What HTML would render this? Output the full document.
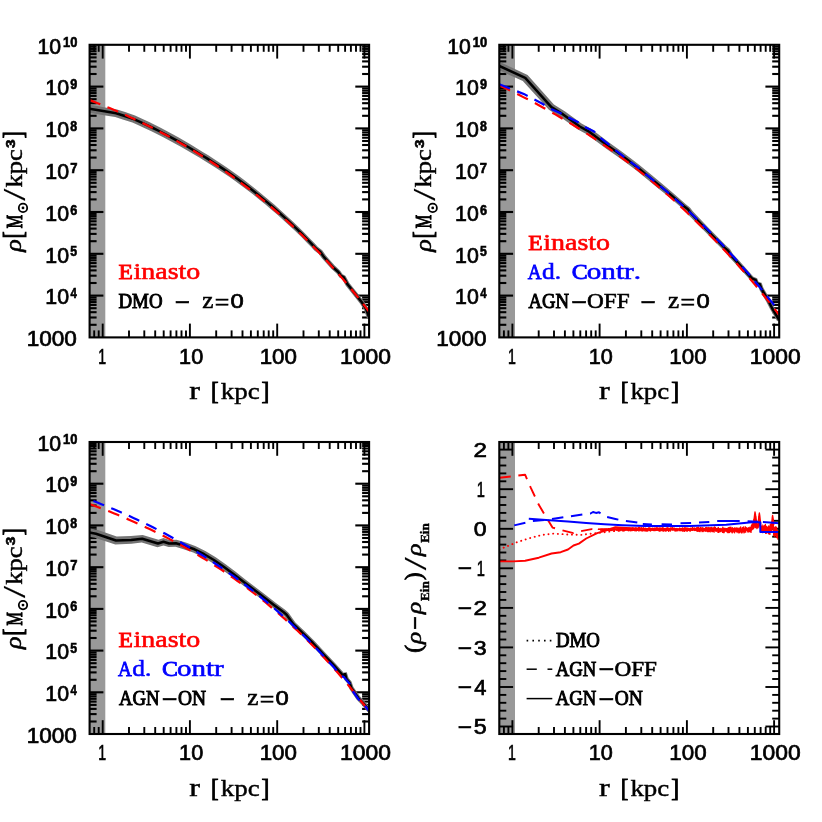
<!DOCTYPE html>
<html lang="en"><head><meta charset="utf-8"><title>Density profiles: Einasto fits and adiabatic contraction</title>
<style>html,body{margin:0;padding:0;background:#fff}svg{display:block;font-kerning:none;will-change:transform}text{stroke:#000;fill:#000}.sr{font-family:"Liberation Serif",serif;stroke-width:0.85px}.si{font-family:"Liberation Serif",serif;font-style:italic;stroke-width:0.85px}.sb{font-family:"Liberation Serif",serif;font-weight:bold;stroke-width:0.85px}.nr{font-family:"Liberation Sans",sans-serif;stroke-width:0.7px}.nb{font-family:"Liberation Sans",sans-serif;font-weight:bold;stroke-width:.6px}.ax{stroke:#000;stroke-width:1.9;fill:#000}.dat{fill:none;stroke-linejoin:round}</style></head><body>
<svg width="822" height="822" viewBox="0 0 822 822">
<rect width="822" height="822" fill="#fff"/>
<mask id="mk" maskUnits="userSpaceOnUse" x="0" y="0" width="822" height="822"><rect width="822" height="822" fill="#fff"/></mask><g mask="url(#mk)">
<g class="ax">
<rect x="89.6" y="44.8" width="15.7" height="292.6" fill="#999" stroke="none"/>
<line x1="94.2" y1="337.4" x2="94.2" y2="330.4"/>
<line x1="94.2" y1="44.8" x2="94.2" y2="51.8"/>
<line x1="98.7" y1="337.4" x2="98.7" y2="330.4"/>
<line x1="98.7" y1="44.8" x2="98.7" y2="51.8"/>
<line x1="102.7" y1="337.4" x2="102.7" y2="323.6"/>
<line x1="102.7" y1="44.8" x2="102.7" y2="58.6"/>
<line x1="129" y1="337.4" x2="129" y2="330.4"/>
<line x1="129" y1="44.8" x2="129" y2="51.8"/>
<line x1="144.3" y1="337.4" x2="144.3" y2="330.4"/>
<line x1="144.3" y1="44.8" x2="144.3" y2="51.8"/>
<line x1="155.2" y1="337.4" x2="155.2" y2="330.4"/>
<line x1="155.2" y1="44.8" x2="155.2" y2="51.8"/>
<line x1="163.7" y1="337.4" x2="163.7" y2="330.4"/>
<line x1="163.7" y1="44.8" x2="163.7" y2="51.8"/>
<line x1="170.6" y1="337.4" x2="170.6" y2="330.4"/>
<line x1="170.6" y1="44.8" x2="170.6" y2="51.8"/>
<line x1="176.4" y1="337.4" x2="176.4" y2="330.4"/>
<line x1="176.4" y1="44.8" x2="176.4" y2="51.8"/>
<line x1="181.5" y1="337.4" x2="181.5" y2="330.4"/>
<line x1="181.5" y1="44.8" x2="181.5" y2="51.8"/>
<line x1="186" y1="337.4" x2="186" y2="330.4"/>
<line x1="186" y1="44.8" x2="186" y2="51.8"/>
<line x1="189.9" y1="337.4" x2="189.9" y2="323.6"/>
<line x1="189.9" y1="44.8" x2="189.9" y2="58.6"/>
<line x1="216.2" y1="337.4" x2="216.2" y2="330.4"/>
<line x1="216.2" y1="44.8" x2="216.2" y2="51.8"/>
<line x1="231.6" y1="337.4" x2="231.6" y2="330.4"/>
<line x1="231.6" y1="44.8" x2="231.6" y2="51.8"/>
<line x1="242.5" y1="337.4" x2="242.5" y2="330.4"/>
<line x1="242.5" y1="44.8" x2="242.5" y2="51.8"/>
<line x1="250.9" y1="337.4" x2="250.9" y2="330.4"/>
<line x1="250.9" y1="44.8" x2="250.9" y2="51.8"/>
<line x1="257.8" y1="337.4" x2="257.8" y2="330.4"/>
<line x1="257.8" y1="44.8" x2="257.8" y2="51.8"/>
<line x1="263.7" y1="337.4" x2="263.7" y2="330.4"/>
<line x1="263.7" y1="44.8" x2="263.7" y2="51.8"/>
<line x1="268.7" y1="337.4" x2="268.7" y2="330.4"/>
<line x1="268.7" y1="44.8" x2="268.7" y2="51.8"/>
<line x1="273.2" y1="337.4" x2="273.2" y2="330.4"/>
<line x1="273.2" y1="44.8" x2="273.2" y2="51.8"/>
<line x1="277.2" y1="337.4" x2="277.2" y2="323.6"/>
<line x1="277.2" y1="44.8" x2="277.2" y2="58.6"/>
<line x1="303.5" y1="337.4" x2="303.5" y2="330.4"/>
<line x1="303.5" y1="44.8" x2="303.5" y2="51.8"/>
<line x1="318.8" y1="337.4" x2="318.8" y2="330.4"/>
<line x1="318.8" y1="44.8" x2="318.8" y2="51.8"/>
<line x1="329.7" y1="337.4" x2="329.7" y2="330.4"/>
<line x1="329.7" y1="44.8" x2="329.7" y2="51.8"/>
<line x1="338.2" y1="337.4" x2="338.2" y2="330.4"/>
<line x1="338.2" y1="44.8" x2="338.2" y2="51.8"/>
<line x1="345.1" y1="337.4" x2="345.1" y2="330.4"/>
<line x1="345.1" y1="44.8" x2="345.1" y2="51.8"/>
<line x1="350.9" y1="337.4" x2="350.9" y2="330.4"/>
<line x1="350.9" y1="44.8" x2="350.9" y2="51.8"/>
<line x1="356" y1="337.4" x2="356" y2="330.4"/>
<line x1="356" y1="44.8" x2="356" y2="51.8"/>
<line x1="360.5" y1="337.4" x2="360.5" y2="330.4"/>
<line x1="360.5" y1="44.8" x2="360.5" y2="51.8"/>
<line x1="364.4" y1="337.4" x2="364.4" y2="323.6"/>
<line x1="364.4" y1="44.8" x2="364.4" y2="58.6"/>
<g stroke-width="2.1">
<line x1="89.6" y1="324.8" x2="96.6" y2="324.8"/>
<line x1="369.1" y1="324.8" x2="362.1" y2="324.8"/>
<line x1="89.6" y1="317.5" x2="96.6" y2="317.5"/>
<line x1="369.1" y1="317.5" x2="362.1" y2="317.5"/>
<line x1="89.6" y1="312.2" x2="96.6" y2="312.2"/>
<line x1="369.1" y1="312.2" x2="362.1" y2="312.2"/>
<line x1="89.6" y1="308.2" x2="96.6" y2="308.2"/>
<line x1="369.1" y1="308.2" x2="362.1" y2="308.2"/>
<line x1="89.6" y1="304.9" x2="96.6" y2="304.9"/>
<line x1="369.1" y1="304.9" x2="362.1" y2="304.9"/>
<line x1="89.6" y1="302.1" x2="96.6" y2="302.1"/>
<line x1="369.1" y1="302.1" x2="362.1" y2="302.1"/>
<line x1="89.6" y1="299.7" x2="96.6" y2="299.7"/>
<line x1="369.1" y1="299.7" x2="362.1" y2="299.7"/>
<line x1="89.6" y1="297.5" x2="96.6" y2="297.5"/>
<line x1="369.1" y1="297.5" x2="362.1" y2="297.5"/>
<line x1="89.6" y1="295.6" x2="103.4" y2="295.6"/>
<line x1="369.1" y1="295.6" x2="355.3" y2="295.6"/>
<line x1="89.6" y1="283" x2="96.6" y2="283"/>
<line x1="369.1" y1="283" x2="362.1" y2="283"/>
<line x1="89.6" y1="275.7" x2="96.6" y2="275.7"/>
<line x1="369.1" y1="275.7" x2="362.1" y2="275.7"/>
<line x1="89.6" y1="270.4" x2="96.6" y2="270.4"/>
<line x1="369.1" y1="270.4" x2="362.1" y2="270.4"/>
<line x1="89.6" y1="266.4" x2="96.6" y2="266.4"/>
<line x1="369.1" y1="266.4" x2="362.1" y2="266.4"/>
<line x1="89.6" y1="263.1" x2="96.6" y2="263.1"/>
<line x1="369.1" y1="263.1" x2="362.1" y2="263.1"/>
<line x1="89.6" y1="260.3" x2="96.6" y2="260.3"/>
<line x1="369.1" y1="260.3" x2="362.1" y2="260.3"/>
<line x1="89.6" y1="257.9" x2="96.6" y2="257.9"/>
<line x1="369.1" y1="257.9" x2="362.1" y2="257.9"/>
<line x1="89.6" y1="255.7" x2="96.6" y2="255.7"/>
<line x1="369.1" y1="255.7" x2="362.1" y2="255.7"/>
<line x1="89.6" y1="253.8" x2="103.4" y2="253.8"/>
<line x1="369.1" y1="253.8" x2="355.3" y2="253.8"/>
<line x1="89.6" y1="241.2" x2="96.6" y2="241.2"/>
<line x1="369.1" y1="241.2" x2="362.1" y2="241.2"/>
<line x1="89.6" y1="233.9" x2="96.6" y2="233.9"/>
<line x1="369.1" y1="233.9" x2="362.1" y2="233.9"/>
<line x1="89.6" y1="228.6" x2="96.6" y2="228.6"/>
<line x1="369.1" y1="228.6" x2="362.1" y2="228.6"/>
<line x1="89.6" y1="224.6" x2="96.6" y2="224.6"/>
<line x1="369.1" y1="224.6" x2="362.1" y2="224.6"/>
<line x1="89.6" y1="221.3" x2="96.6" y2="221.3"/>
<line x1="369.1" y1="221.3" x2="362.1" y2="221.3"/>
<line x1="89.6" y1="218.5" x2="96.6" y2="218.5"/>
<line x1="369.1" y1="218.5" x2="362.1" y2="218.5"/>
<line x1="89.6" y1="216.1" x2="96.6" y2="216.1"/>
<line x1="369.1" y1="216.1" x2="362.1" y2="216.1"/>
<line x1="89.6" y1="213.9" x2="96.6" y2="213.9"/>
<line x1="369.1" y1="213.9" x2="362.1" y2="213.9"/>
<line x1="89.6" y1="212" x2="103.4" y2="212"/>
<line x1="369.1" y1="212" x2="355.3" y2="212"/>
<line x1="89.6" y1="199.4" x2="96.6" y2="199.4"/>
<line x1="369.1" y1="199.4" x2="362.1" y2="199.4"/>
<line x1="89.6" y1="192.1" x2="96.6" y2="192.1"/>
<line x1="369.1" y1="192.1" x2="362.1" y2="192.1"/>
<line x1="89.6" y1="186.8" x2="96.6" y2="186.8"/>
<line x1="369.1" y1="186.8" x2="362.1" y2="186.8"/>
<line x1="89.6" y1="182.8" x2="96.6" y2="182.8"/>
<line x1="369.1" y1="182.8" x2="362.1" y2="182.8"/>
<line x1="89.6" y1="179.5" x2="96.6" y2="179.5"/>
<line x1="369.1" y1="179.5" x2="362.1" y2="179.5"/>
<line x1="89.6" y1="176.7" x2="96.6" y2="176.7"/>
<line x1="369.1" y1="176.7" x2="362.1" y2="176.7"/>
<line x1="89.6" y1="174.3" x2="96.6" y2="174.3"/>
<line x1="369.1" y1="174.3" x2="362.1" y2="174.3"/>
<line x1="89.6" y1="172.1" x2="96.6" y2="172.1"/>
<line x1="369.1" y1="172.1" x2="362.1" y2="172.1"/>
<line x1="89.6" y1="170.2" x2="103.4" y2="170.2"/>
<line x1="369.1" y1="170.2" x2="355.3" y2="170.2"/>
<line x1="89.6" y1="157.6" x2="96.6" y2="157.6"/>
<line x1="369.1" y1="157.6" x2="362.1" y2="157.6"/>
<line x1="89.6" y1="150.3" x2="96.6" y2="150.3"/>
<line x1="369.1" y1="150.3" x2="362.1" y2="150.3"/>
<line x1="89.6" y1="145" x2="96.6" y2="145"/>
<line x1="369.1" y1="145" x2="362.1" y2="145"/>
<line x1="89.6" y1="141" x2="96.6" y2="141"/>
<line x1="369.1" y1="141" x2="362.1" y2="141"/>
<line x1="89.6" y1="137.7" x2="96.6" y2="137.7"/>
<line x1="369.1" y1="137.7" x2="362.1" y2="137.7"/>
<line x1="89.6" y1="134.9" x2="96.6" y2="134.9"/>
<line x1="369.1" y1="134.9" x2="362.1" y2="134.9"/>
<line x1="89.6" y1="132.5" x2="96.6" y2="132.5"/>
<line x1="369.1" y1="132.5" x2="362.1" y2="132.5"/>
<line x1="89.6" y1="130.3" x2="96.6" y2="130.3"/>
<line x1="369.1" y1="130.3" x2="362.1" y2="130.3"/>
<line x1="89.6" y1="128.4" x2="103.4" y2="128.4"/>
<line x1="369.1" y1="128.4" x2="355.3" y2="128.4"/>
<line x1="89.6" y1="115.8" x2="96.6" y2="115.8"/>
<line x1="369.1" y1="115.8" x2="362.1" y2="115.8"/>
<line x1="89.6" y1="108.5" x2="96.6" y2="108.5"/>
<line x1="369.1" y1="108.5" x2="362.1" y2="108.5"/>
<line x1="89.6" y1="103.2" x2="96.6" y2="103.2"/>
<line x1="369.1" y1="103.2" x2="362.1" y2="103.2"/>
<line x1="89.6" y1="99.2" x2="96.6" y2="99.2"/>
<line x1="369.1" y1="99.2" x2="362.1" y2="99.2"/>
<line x1="89.6" y1="95.9" x2="96.6" y2="95.9"/>
<line x1="369.1" y1="95.9" x2="362.1" y2="95.9"/>
<line x1="89.6" y1="93.1" x2="96.6" y2="93.1"/>
<line x1="369.1" y1="93.1" x2="362.1" y2="93.1"/>
<line x1="89.6" y1="90.7" x2="96.6" y2="90.7"/>
<line x1="369.1" y1="90.7" x2="362.1" y2="90.7"/>
<line x1="89.6" y1="88.5" x2="96.6" y2="88.5"/>
<line x1="369.1" y1="88.5" x2="362.1" y2="88.5"/>
<line x1="89.6" y1="86.6" x2="103.4" y2="86.6"/>
<line x1="369.1" y1="86.6" x2="355.3" y2="86.6"/>
<line x1="89.6" y1="74" x2="96.6" y2="74"/>
<line x1="369.1" y1="74" x2="362.1" y2="74"/>
<line x1="89.6" y1="66.7" x2="96.6" y2="66.7"/>
<line x1="369.1" y1="66.7" x2="362.1" y2="66.7"/>
<line x1="89.6" y1="61.4" x2="96.6" y2="61.4"/>
<line x1="369.1" y1="61.4" x2="362.1" y2="61.4"/>
<line x1="89.6" y1="57.4" x2="96.6" y2="57.4"/>
<line x1="369.1" y1="57.4" x2="362.1" y2="57.4"/>
<line x1="89.6" y1="54.1" x2="96.6" y2="54.1"/>
<line x1="369.1" y1="54.1" x2="362.1" y2="54.1"/>
<line x1="89.6" y1="51.3" x2="96.6" y2="51.3"/>
<line x1="369.1" y1="51.3" x2="362.1" y2="51.3"/>
<line x1="89.6" y1="48.9" x2="96.6" y2="48.9"/>
<line x1="369.1" y1="48.9" x2="362.1" y2="48.9"/>
<line x1="89.6" y1="46.7" x2="96.6" y2="46.7"/>
<line x1="369.1" y1="46.7" x2="362.1" y2="46.7"/>
</g>
</g>
<clipPath id="c1"><rect x="89.6" y="44.8" width="279.5" height="292.6"/></clipPath>
<g class="dat" clip-path="url(#c1)">
<path d="M88.9 112.8L103.8 115.2L115.2 117L122.7 119.4L132.4 122.6L138.5 125.2L145.4 128.4L151.4 131.3L157.4 134.2L163.3 137.3L169.3 140.4L175.3 143.7L181.3 147L187.3 150.4L193.3 154L199.3 157.6L205.3 161.2L211.3 164.9L217.2 168.7L223.2 172.7L229.2 176.7L235.2 181L241.2 185.4L247.2 190L253.2 194.6L259.2 199.4L265.2 204.3L271.2 209.4L277.2 214.6L283.2 219.9L289.2 225.4L295.2 231L301.2 236.8L307.2 242.9L311.2 247.1L314.3 250.4L318.6 253.7L322.1 258.6L326.2 263.1L331.3 268.8L336.6 273.6L339.4 277.6L341.8 278.6L345.6 285.6L350.2 291.3L355.2 297.5L360.1 303.8L363.9 309.6L367.2 318.9L371.6 317.3L368.1 307.7L363.9 301.2L358.8 294.7L353.8 288.4L349.4 283L345.4 275.7L342.6 274.2L340 270.4L334.7 265.5L329.8 259.9L325.9 255.5L322.2 250.3L317.7 246.7L314.8 243.6L310.8 239.4L304.8 233.2L298.8 227.2L292.8 221.4L286.8 215.9L280.8 210.4L274.8 205.1L268.8 200L262.8 194.9L256.8 190L250.8 185.3L244.8 180.6L238.8 176.1L232.8 171.7L226.8 167.5L220.8 163.4L214.7 159.5L208.7 155.6L202.7 151.9L196.7 148.2L190.7 144.6L184.7 141L178.7 137.6L172.7 134.2L166.7 131L160.6 127.8L154.6 124.7L148.6 121.8L141.5 118.4L135 115.6L125.1 112L117 109.4L105.2 107.4L90.3 104.8Z" fill="#747474" stroke="none"/>
<path d="M89.6 108.8L104.5 111.3L116.1 113.2L123.9 115.7L133.7 119.1L140 121.8L147 125.1L153 128L159 131L165 134.1L171 137.3L177 140.6L183 144L189 147.5L195 151.1L201 154.7L207 158.4L213 162.2L219 166.1L225 170.1L231 174.2L237 178.6L243 183L249 187.6L255 192.3L261 197.2L267 202.1L273 207.3L279 212.5L285 217.9L291 223.4L297 229.1L303 235L309 241.2L313 245.4L316 248.6L320.4 252L324 257.1L328 261.5L333 267.2L338.3 272L341 275.9L343.6 277.2L347.5 284.3L352 289.8L357 296.1L362 302.5L366 308.7L369.4 318.1" stroke="#000" stroke-width="2.5"/>
<path d="M89.6 100.1L93.6 101.6L97.6 103.2L101.6 104.8L105.6 106.5L109.6 108.1L113.6 109.8L117.6 111.5L121.6 113.3L125.6 115.1L129.6 116.9L133.6 118.8L137.6 120.6L141.6 122.5L145.6 124.5L149.6 126.5L153.6 128.5L157.6 130.6L161.6 132.7L165.6 134.8L169.6 136.9L173.6 139.2L177.6 141.4L181.6 143.7L185.6 146L189.6 148.4L193.6 150.8L197.6 153.2L201.6 155.7L205.6 158.3L209.6 160.9L213.6 163.5L217.6 166.2L221.6 168.9L225.6 171.7L229.6 174.5L233.6 177.4L237.6 180.3L241.6 183.3L245.6 186.3L249.6 189.4L253.6 192.5L257.6 195.7L261.6 199L265.6 202.3L269.6 205.6L273.6 209.1L277.6 212.6L281.6 216.1L285.6 219.7L289.6 223.4L293.6 227.1L297.6 231L301.6 234.8L305.6 238.8L309.6 242.8L313.6 246.9L317.6 251L321.6 255.3L325.6 259.6L329.6 264L333.6 268.4L337.6 273L341.6 277.6L345.6 282.3L349.6 287.1L353.6 292L357.6 296.9L361.6 302L365.6 307.1L369.4 312.1" stroke="#f00" stroke-width="2.2" stroke-dasharray="11.5 7.7"/>
</g>
<g class="ax">
<rect x="89.6" y="44.8" width="279.5" height="292.6" fill="none" stroke-width="2.1"/>
</g><g class="ax">
<text class="nr" transform="translate(98.372 363.8) scale(0.664 1.02)" font-size="21.3">1</text>
<text class="nr" transform="translate(179.1 363.8) scale(1.017 1.005)" font-size="21.3">10</text>
<text class="nr" transform="translate(259.648 363.8) scale(1.049 1.005)" font-size="21.3">100</text>
<text class="nr" transform="translate(340.109 363.8) scale(1.073 1.005)" font-size="21.3">1000</text>
<text class="sr" transform="translate(189.255 398.9) scale(1.464 1.12)" font-size="22" style="stroke-width:0.4px">r</text> <text class="sr" transform="translate(211.042 399.424) scale(1.031 1.173)" font-size="22">[</text><text class="sr" transform="translate(220.686 398.9) scale(1.226 1.08)" font-size="22" style="stroke-width:0.4px">kpc</text><text class="sr" transform="translate(261.573 399.424) scale(1.072 1.173)" font-size="22">]</text>
<text class="nr" transform="translate(26.631 346.1) scale(1.059 1.012)" font-size="21.3">1000</text>
<text class="nr" transform="translate(45.323 304.3) scale(1.003 1.012)" font-size="21.3">10</text><text class="nb" transform="translate(70.528 298.2) scale(0.844 1.055)" font-size="13.5">4</text>
<text class="nr" transform="translate(45.323 262.5) scale(1.003 1.012)" font-size="21.3">10</text><text class="nb" transform="translate(70.323 256.4) scale(0.908 1.055)" font-size="13.5">5</text>
<text class="nr" transform="translate(45.323 220.7) scale(1.003 1.012)" font-size="21.3">10</text><text class="nb" transform="translate(70.238 214.6) scale(0.935 1.04)" font-size="13.5">6</text>
<text class="nr" transform="translate(45.323 178.9) scale(1.003 1.012)" font-size="21.3">10</text><text class="nb" transform="translate(70.141 172.8) scale(0.963 1.055)" font-size="13.5">7</text>
<text class="nr" transform="translate(45.323 137.1) scale(1.003 1.012)" font-size="21.3">10</text><text class="nb" transform="translate(70.308 131) scale(0.915 1.04)" font-size="13.5">8</text>
<text class="nr" transform="translate(45.323 95.3) scale(1.003 1.012)" font-size="21.3">10</text><text class="nb" transform="translate(70.263 89.2) scale(0.933 1.04)" font-size="13.5">9</text>
<text class="nr" transform="translate(37.53 53.5) scale(0.998 1.012)" font-size="21.3">10</text><text class="nb" transform="translate(63.088 47.1) scale(0.955 1.018)" font-size="13.5">10</text>
<text class="si" transform="rotate(-90) translate(-251.693 20.837) scale(1.177 1.006)" font-size="22" style="stroke-width:0.5px">ρ</text><text class="sr" transform="rotate(-90) translate(-238.458 22.162) scale(0.97 1.227)" font-size="22">[</text><text class="sr" transform="rotate(-90) translate(-228.21 21.6) scale(0.686 1.046)" font-size="22" style="stroke-width:1.05px">M</text><circle cx="23" cy="207.9" r="4.2" fill="none" stroke-width="1.8"/><circle cx="23" cy="207.9" r="1.4" stroke="none"/><text class="sr" transform="rotate(-90) translate(-200.85 25.432) scale(1.98 1.481)" font-size="22" style="stroke-width:0.1px">/</text><text class="sr" transform="rotate(-90) translate(-187.607 21.6) scale(1.21 1.08)" font-size="22" style="stroke-width:0.4px">kpc</text><text class="nb" transform="rotate(-90) translate(-147.956 14.6) scale(1.147 0.997)" font-size="13.5">3</text><text class="sr" transform="rotate(-90) translate(-138.13 22.162) scale(0.949 1.227)" font-size="22">]</text>
</g>
<g class="ax">
<rect x="499.3" y="44.8" width="15.7" height="292.6" fill="#999" stroke="none"/>
<line x1="503.9" y1="337.4" x2="503.9" y2="330.4"/>
<line x1="503.9" y1="44.8" x2="503.9" y2="51.8"/>
<line x1="508.4" y1="337.4" x2="508.4" y2="330.4"/>
<line x1="508.4" y1="44.8" x2="508.4" y2="51.8"/>
<line x1="512.4" y1="337.4" x2="512.4" y2="323.6"/>
<line x1="512.4" y1="44.8" x2="512.4" y2="58.6"/>
<line x1="538.7" y1="337.4" x2="538.7" y2="330.4"/>
<line x1="538.7" y1="44.8" x2="538.7" y2="51.8"/>
<line x1="554" y1="337.4" x2="554" y2="330.4"/>
<line x1="554" y1="44.8" x2="554" y2="51.8"/>
<line x1="564.9" y1="337.4" x2="564.9" y2="330.4"/>
<line x1="564.9" y1="44.8" x2="564.9" y2="51.8"/>
<line x1="573.4" y1="337.4" x2="573.4" y2="330.4"/>
<line x1="573.4" y1="44.8" x2="573.4" y2="51.8"/>
<line x1="580.3" y1="337.4" x2="580.3" y2="330.4"/>
<line x1="580.3" y1="44.8" x2="580.3" y2="51.8"/>
<line x1="586.1" y1="337.4" x2="586.1" y2="330.4"/>
<line x1="586.1" y1="44.8" x2="586.1" y2="51.8"/>
<line x1="591.2" y1="337.4" x2="591.2" y2="330.4"/>
<line x1="591.2" y1="44.8" x2="591.2" y2="51.8"/>
<line x1="595.7" y1="337.4" x2="595.7" y2="330.4"/>
<line x1="595.7" y1="44.8" x2="595.7" y2="51.8"/>
<line x1="599.6" y1="337.4" x2="599.6" y2="323.6"/>
<line x1="599.6" y1="44.8" x2="599.6" y2="58.6"/>
<line x1="625.9" y1="337.4" x2="625.9" y2="330.4"/>
<line x1="625.9" y1="44.8" x2="625.9" y2="51.8"/>
<line x1="641.3" y1="337.4" x2="641.3" y2="330.4"/>
<line x1="641.3" y1="44.8" x2="641.3" y2="51.8"/>
<line x1="652.2" y1="337.4" x2="652.2" y2="330.4"/>
<line x1="652.2" y1="44.8" x2="652.2" y2="51.8"/>
<line x1="660.6" y1="337.4" x2="660.6" y2="330.4"/>
<line x1="660.6" y1="44.8" x2="660.6" y2="51.8"/>
<line x1="667.5" y1="337.4" x2="667.5" y2="330.4"/>
<line x1="667.5" y1="44.8" x2="667.5" y2="51.8"/>
<line x1="673.4" y1="337.4" x2="673.4" y2="330.4"/>
<line x1="673.4" y1="44.8" x2="673.4" y2="51.8"/>
<line x1="678.4" y1="337.4" x2="678.4" y2="330.4"/>
<line x1="678.4" y1="44.8" x2="678.4" y2="51.8"/>
<line x1="682.9" y1="337.4" x2="682.9" y2="330.4"/>
<line x1="682.9" y1="44.8" x2="682.9" y2="51.8"/>
<line x1="686.9" y1="337.4" x2="686.9" y2="323.6"/>
<line x1="686.9" y1="44.8" x2="686.9" y2="58.6"/>
<line x1="713.2" y1="337.4" x2="713.2" y2="330.4"/>
<line x1="713.2" y1="44.8" x2="713.2" y2="51.8"/>
<line x1="728.5" y1="337.4" x2="728.5" y2="330.4"/>
<line x1="728.5" y1="44.8" x2="728.5" y2="51.8"/>
<line x1="739.4" y1="337.4" x2="739.4" y2="330.4"/>
<line x1="739.4" y1="44.8" x2="739.4" y2="51.8"/>
<line x1="747.9" y1="337.4" x2="747.9" y2="330.4"/>
<line x1="747.9" y1="44.8" x2="747.9" y2="51.8"/>
<line x1="754.8" y1="337.4" x2="754.8" y2="330.4"/>
<line x1="754.8" y1="44.8" x2="754.8" y2="51.8"/>
<line x1="760.6" y1="337.4" x2="760.6" y2="330.4"/>
<line x1="760.6" y1="44.8" x2="760.6" y2="51.8"/>
<line x1="765.7" y1="337.4" x2="765.7" y2="330.4"/>
<line x1="765.7" y1="44.8" x2="765.7" y2="51.8"/>
<line x1="770.2" y1="337.4" x2="770.2" y2="330.4"/>
<line x1="770.2" y1="44.8" x2="770.2" y2="51.8"/>
<line x1="774.1" y1="337.4" x2="774.1" y2="323.6"/>
<line x1="774.1" y1="44.8" x2="774.1" y2="58.6"/>
<g stroke-width="2.1">
<line x1="499.3" y1="324.8" x2="506.3" y2="324.8"/>
<line x1="779.2" y1="324.8" x2="772.2" y2="324.8"/>
<line x1="499.3" y1="317.5" x2="506.3" y2="317.5"/>
<line x1="779.2" y1="317.5" x2="772.2" y2="317.5"/>
<line x1="499.3" y1="312.2" x2="506.3" y2="312.2"/>
<line x1="779.2" y1="312.2" x2="772.2" y2="312.2"/>
<line x1="499.3" y1="308.2" x2="506.3" y2="308.2"/>
<line x1="779.2" y1="308.2" x2="772.2" y2="308.2"/>
<line x1="499.3" y1="304.9" x2="506.3" y2="304.9"/>
<line x1="779.2" y1="304.9" x2="772.2" y2="304.9"/>
<line x1="499.3" y1="302.1" x2="506.3" y2="302.1"/>
<line x1="779.2" y1="302.1" x2="772.2" y2="302.1"/>
<line x1="499.3" y1="299.7" x2="506.3" y2="299.7"/>
<line x1="779.2" y1="299.7" x2="772.2" y2="299.7"/>
<line x1="499.3" y1="297.5" x2="506.3" y2="297.5"/>
<line x1="779.2" y1="297.5" x2="772.2" y2="297.5"/>
<line x1="499.3" y1="295.6" x2="513.1" y2="295.6"/>
<line x1="779.2" y1="295.6" x2="765.4" y2="295.6"/>
<line x1="499.3" y1="283" x2="506.3" y2="283"/>
<line x1="779.2" y1="283" x2="772.2" y2="283"/>
<line x1="499.3" y1="275.7" x2="506.3" y2="275.7"/>
<line x1="779.2" y1="275.7" x2="772.2" y2="275.7"/>
<line x1="499.3" y1="270.4" x2="506.3" y2="270.4"/>
<line x1="779.2" y1="270.4" x2="772.2" y2="270.4"/>
<line x1="499.3" y1="266.4" x2="506.3" y2="266.4"/>
<line x1="779.2" y1="266.4" x2="772.2" y2="266.4"/>
<line x1="499.3" y1="263.1" x2="506.3" y2="263.1"/>
<line x1="779.2" y1="263.1" x2="772.2" y2="263.1"/>
<line x1="499.3" y1="260.3" x2="506.3" y2="260.3"/>
<line x1="779.2" y1="260.3" x2="772.2" y2="260.3"/>
<line x1="499.3" y1="257.9" x2="506.3" y2="257.9"/>
<line x1="779.2" y1="257.9" x2="772.2" y2="257.9"/>
<line x1="499.3" y1="255.7" x2="506.3" y2="255.7"/>
<line x1="779.2" y1="255.7" x2="772.2" y2="255.7"/>
<line x1="499.3" y1="253.8" x2="513.1" y2="253.8"/>
<line x1="779.2" y1="253.8" x2="765.4" y2="253.8"/>
<line x1="499.3" y1="241.2" x2="506.3" y2="241.2"/>
<line x1="779.2" y1="241.2" x2="772.2" y2="241.2"/>
<line x1="499.3" y1="233.9" x2="506.3" y2="233.9"/>
<line x1="779.2" y1="233.9" x2="772.2" y2="233.9"/>
<line x1="499.3" y1="228.6" x2="506.3" y2="228.6"/>
<line x1="779.2" y1="228.6" x2="772.2" y2="228.6"/>
<line x1="499.3" y1="224.6" x2="506.3" y2="224.6"/>
<line x1="779.2" y1="224.6" x2="772.2" y2="224.6"/>
<line x1="499.3" y1="221.3" x2="506.3" y2="221.3"/>
<line x1="779.2" y1="221.3" x2="772.2" y2="221.3"/>
<line x1="499.3" y1="218.5" x2="506.3" y2="218.5"/>
<line x1="779.2" y1="218.5" x2="772.2" y2="218.5"/>
<line x1="499.3" y1="216.1" x2="506.3" y2="216.1"/>
<line x1="779.2" y1="216.1" x2="772.2" y2="216.1"/>
<line x1="499.3" y1="213.9" x2="506.3" y2="213.9"/>
<line x1="779.2" y1="213.9" x2="772.2" y2="213.9"/>
<line x1="499.3" y1="212" x2="513.1" y2="212"/>
<line x1="779.2" y1="212" x2="765.4" y2="212"/>
<line x1="499.3" y1="199.4" x2="506.3" y2="199.4"/>
<line x1="779.2" y1="199.4" x2="772.2" y2="199.4"/>
<line x1="499.3" y1="192.1" x2="506.3" y2="192.1"/>
<line x1="779.2" y1="192.1" x2="772.2" y2="192.1"/>
<line x1="499.3" y1="186.8" x2="506.3" y2="186.8"/>
<line x1="779.2" y1="186.8" x2="772.2" y2="186.8"/>
<line x1="499.3" y1="182.8" x2="506.3" y2="182.8"/>
<line x1="779.2" y1="182.8" x2="772.2" y2="182.8"/>
<line x1="499.3" y1="179.5" x2="506.3" y2="179.5"/>
<line x1="779.2" y1="179.5" x2="772.2" y2="179.5"/>
<line x1="499.3" y1="176.7" x2="506.3" y2="176.7"/>
<line x1="779.2" y1="176.7" x2="772.2" y2="176.7"/>
<line x1="499.3" y1="174.3" x2="506.3" y2="174.3"/>
<line x1="779.2" y1="174.3" x2="772.2" y2="174.3"/>
<line x1="499.3" y1="172.1" x2="506.3" y2="172.1"/>
<line x1="779.2" y1="172.1" x2="772.2" y2="172.1"/>
<line x1="499.3" y1="170.2" x2="513.1" y2="170.2"/>
<line x1="779.2" y1="170.2" x2="765.4" y2="170.2"/>
<line x1="499.3" y1="157.6" x2="506.3" y2="157.6"/>
<line x1="779.2" y1="157.6" x2="772.2" y2="157.6"/>
<line x1="499.3" y1="150.3" x2="506.3" y2="150.3"/>
<line x1="779.2" y1="150.3" x2="772.2" y2="150.3"/>
<line x1="499.3" y1="145" x2="506.3" y2="145"/>
<line x1="779.2" y1="145" x2="772.2" y2="145"/>
<line x1="499.3" y1="141" x2="506.3" y2="141"/>
<line x1="779.2" y1="141" x2="772.2" y2="141"/>
<line x1="499.3" y1="137.7" x2="506.3" y2="137.7"/>
<line x1="779.2" y1="137.7" x2="772.2" y2="137.7"/>
<line x1="499.3" y1="134.9" x2="506.3" y2="134.9"/>
<line x1="779.2" y1="134.9" x2="772.2" y2="134.9"/>
<line x1="499.3" y1="132.5" x2="506.3" y2="132.5"/>
<line x1="779.2" y1="132.5" x2="772.2" y2="132.5"/>
<line x1="499.3" y1="130.3" x2="506.3" y2="130.3"/>
<line x1="779.2" y1="130.3" x2="772.2" y2="130.3"/>
<line x1="499.3" y1="128.4" x2="513.1" y2="128.4"/>
<line x1="779.2" y1="128.4" x2="765.4" y2="128.4"/>
<line x1="499.3" y1="115.8" x2="506.3" y2="115.8"/>
<line x1="779.2" y1="115.8" x2="772.2" y2="115.8"/>
<line x1="499.3" y1="108.5" x2="506.3" y2="108.5"/>
<line x1="779.2" y1="108.5" x2="772.2" y2="108.5"/>
<line x1="499.3" y1="103.2" x2="506.3" y2="103.2"/>
<line x1="779.2" y1="103.2" x2="772.2" y2="103.2"/>
<line x1="499.3" y1="99.2" x2="506.3" y2="99.2"/>
<line x1="779.2" y1="99.2" x2="772.2" y2="99.2"/>
<line x1="499.3" y1="95.9" x2="506.3" y2="95.9"/>
<line x1="779.2" y1="95.9" x2="772.2" y2="95.9"/>
<line x1="499.3" y1="93.1" x2="506.3" y2="93.1"/>
<line x1="779.2" y1="93.1" x2="772.2" y2="93.1"/>
<line x1="499.3" y1="90.7" x2="506.3" y2="90.7"/>
<line x1="779.2" y1="90.7" x2="772.2" y2="90.7"/>
<line x1="499.3" y1="88.5" x2="506.3" y2="88.5"/>
<line x1="779.2" y1="88.5" x2="772.2" y2="88.5"/>
<line x1="499.3" y1="86.6" x2="513.1" y2="86.6"/>
<line x1="779.2" y1="86.6" x2="765.4" y2="86.6"/>
<line x1="499.3" y1="74" x2="506.3" y2="74"/>
<line x1="779.2" y1="74" x2="772.2" y2="74"/>
<line x1="499.3" y1="66.7" x2="506.3" y2="66.7"/>
<line x1="779.2" y1="66.7" x2="772.2" y2="66.7"/>
<line x1="499.3" y1="61.4" x2="506.3" y2="61.4"/>
<line x1="779.2" y1="61.4" x2="772.2" y2="61.4"/>
<line x1="499.3" y1="57.4" x2="506.3" y2="57.4"/>
<line x1="779.2" y1="57.4" x2="772.2" y2="57.4"/>
<line x1="499.3" y1="54.1" x2="506.3" y2="54.1"/>
<line x1="779.2" y1="54.1" x2="772.2" y2="54.1"/>
<line x1="499.3" y1="51.3" x2="506.3" y2="51.3"/>
<line x1="779.2" y1="51.3" x2="772.2" y2="51.3"/>
<line x1="499.3" y1="48.9" x2="506.3" y2="48.9"/>
<line x1="779.2" y1="48.9" x2="772.2" y2="48.9"/>
<line x1="499.3" y1="46.7" x2="506.3" y2="46.7"/>
<line x1="779.2" y1="46.7" x2="772.2" y2="46.7"/>
</g>
</g>
<clipPath id="c2"><rect x="499.3" y="44.8" width="279.9" height="292.6"/></clipPath>
<g class="dat" clip-path="url(#c2)">
<path d="M497.6 69.6L522.8 80.9L548.9 109.7L561.1 117.4L572.9 125.9L577.9 129.5L587.6 134.8L597.2 141.9L607 149.2L616.8 155.9L626.5 163.1L636.2 170.3L648.1 179.9L657.4 187.7L669.7 197.6L681.9 208.1L685.9 211.2L689 215.4L706.1 232.8L722.6 249.4L726.1 252.2L729.1 257L735.4 263.8L750.2 280.1L753.9 281.4L755.3 285.1L758 285.8L759.5 290.1L766.2 301.6L770 309.1L777.2 321.2L781.2 318.8L774 306.9L770.2 299.4L763.5 287.9L761.6 282.8L758.7 281.9L757.1 278.2L753.4 276.7L739 260.6L732.9 254L729.9 249L726.2 245.8L709.9 229.2L693 211.6L689.9 207.4L685.5 203.9L673.3 193.2L661.2 183.1L651.9 175.3L640 165.5L630.3 158.1L620.6 150.7L610.8 143.8L601.2 136.5L591.4 129L581.5 123.5L577.1 120.3L565.1 111.4L553.9 104.5L527.6 74.9L501 62.4Z" fill="#747474" stroke="none"/>
<path d="M499.3 66L525.2 77.9L551.4 107.1L563.1 114.4L575 123.1L579.7 126.5L589.5 131.9L599.2 139.2L608.9 146.5L618.7 153.3L628.4 160.6L638.1 167.9L650 177.6L659.3 185.4L671.5 195.4L683.7 206L687.9 209.3L691 213.5L708 231L724.4 247.6L728 250.6L731 255.5L737.2 262.2L751.8 278.4L755.5 279.8L757 283.5L759.8 284.3L761.5 289L768.2 300.5L772 308L779.2 320" stroke="#000" stroke-width="2.5"/>
<path d="M499.3 85.3L503.3 87.2L507.3 89.1L511.3 91.1L515.3 93L519.3 95L523.3 97.1L527.3 99.1L531.3 101.2L535.3 103.3L539.3 105.5L543.3 107.7L547.3 109.9L551.3 112.1L555.3 114.4L559.3 116.7L563.3 119.1L567.3 121.5L571.3 123.9L575.3 126.3L579.3 128.8L583.3 131.4L587.3 133.9L591.3 136.5L595.3 139.2L599.3 141.9L603.3 144.6L607.3 147.4L611.3 150.2L615.3 153L619.3 155.9L623.3 158.8L627.3 161.8L631.3 164.8L635.3 167.9L639.3 171L643.3 174.2L647.3 177.4L651.3 180.7L655.3 184.1L659.3 187.5L663.3 191L667.3 194.5L671.3 198L675.3 201.6L679.3 205.3L683.3 209L687.3 212.8L691.3 216.6L695.3 220.5L699.3 224.4L703.3 228.3L707.3 232.3L711.3 236.4L715.3 240.5L719.3 244.6L723.3 248.9L727.3 253.2L731.3 257.5L735.3 261.9L739.3 266.4L743.3 271L747.3 275.6L751.3 280.3L755.3 285L759.3 289.9L763.3 294.8L767.3 299.7L771.3 304.8L775.3 309.9L779.3 315.1L779.5 314.4" stroke="#f00" stroke-width="2.2" stroke-dasharray="11.9 8.0"/>
<path d="M499.3 84.2L525.1 94.6L542.4 103.8L550.9 109L560.7 113.2L568.6 117.5L577.7 122L585 127L594.1 131.5L600.8 138.2L608.7 144.3L615.4 150.2L627.6 159.6L640 168.9L645.8 174.1L649.8 177.3L653.8 180.6L657.8 183.9L661.8 187.3L665.8 190.7L669.8 194.1L673.8 197.6L677.8 201.2L681.8 204.8L685.8 208.5L689.8 212.2L693.8 216L697.8 219.9L701.8 223.8L705.8 227.7L709.8 231.7L713.8 235.8L717.8 239.9L721.8 244.1L725.8 248.4L729.8 252.7L733.8 257.1L737.8 261.5L741.8 266L745.8 270.6L749.8 275.3L753.8 280L757.8 284.8L761.8 289.6L765.8 294.6L769.8 299.6L773.8 304.6L777.8 309.8L780.3 313" stroke="#00f" stroke-width="2.2" stroke-dasharray="11.5 7.7"/>
</g>
<g class="ax">
<rect x="499.3" y="44.8" width="279.9" height="292.6" fill="none" stroke-width="2.1"/>
</g><g class="ax">
<text class="nr" transform="translate(508.072 363.8) scale(0.664 1.02)" font-size="21.3">1</text>
<text class="nr" transform="translate(588.8 363.8) scale(1.017 1.005)" font-size="21.3">10</text>
<text class="nr" transform="translate(669.348 363.8) scale(1.049 1.005)" font-size="21.3">100</text>
<text class="nr" transform="translate(749.809 363.8) scale(1.073 1.005)" font-size="21.3">1000</text>
<text class="sr" transform="translate(598.955 398.9) scale(1.464 1.12)" font-size="22" style="stroke-width:0.4px">r</text> <text class="sr" transform="translate(620.742 399.424) scale(1.031 1.173)" font-size="22">[</text><text class="sr" transform="translate(630.386 398.9) scale(1.226 1.08)" font-size="22" style="stroke-width:0.4px">kpc</text><text class="sr" transform="translate(671.273 399.424) scale(1.072 1.173)" font-size="22">]</text>
<text class="nr" transform="translate(436.331 346.1) scale(1.059 1.012)" font-size="21.3">1000</text>
<text class="nr" transform="translate(455.023 304.3) scale(1.003 1.012)" font-size="21.3">10</text><text class="nb" transform="translate(480.228 298.2) scale(0.844 1.055)" font-size="13.5">4</text>
<text class="nr" transform="translate(455.023 262.5) scale(1.003 1.012)" font-size="21.3">10</text><text class="nb" transform="translate(480.023 256.4) scale(0.908 1.055)" font-size="13.5">5</text>
<text class="nr" transform="translate(455.023 220.7) scale(1.003 1.012)" font-size="21.3">10</text><text class="nb" transform="translate(479.938 214.6) scale(0.935 1.04)" font-size="13.5">6</text>
<text class="nr" transform="translate(455.023 178.9) scale(1.003 1.012)" font-size="21.3">10</text><text class="nb" transform="translate(479.841 172.8) scale(0.963 1.055)" font-size="13.5">7</text>
<text class="nr" transform="translate(455.023 137.1) scale(1.003 1.012)" font-size="21.3">10</text><text class="nb" transform="translate(480.008 131) scale(0.915 1.04)" font-size="13.5">8</text>
<text class="nr" transform="translate(455.023 95.3) scale(1.003 1.012)" font-size="21.3">10</text><text class="nb" transform="translate(479.963 89.2) scale(0.933 1.04)" font-size="13.5">9</text>
<text class="nr" transform="translate(447.23 53.5) scale(0.998 1.012)" font-size="21.3">10</text><text class="nb" transform="translate(472.788 47.1) scale(0.955 1.018)" font-size="13.5">10</text>
<text class="si" transform="rotate(-90) translate(-251.693 430.537) scale(1.177 1.006)" font-size="22" style="stroke-width:0.5px">ρ</text><text class="sr" transform="rotate(-90) translate(-238.458 431.862) scale(0.97 1.227)" font-size="22">[</text><text class="sr" transform="rotate(-90) translate(-228.21 431.3) scale(0.686 1.046)" font-size="22" style="stroke-width:1.05px">M</text><circle cx="432.7" cy="207.9" r="4.2" fill="none" stroke-width="1.8"/><circle cx="432.7" cy="207.9" r="1.4" stroke="none"/><text class="sr" transform="rotate(-90) translate(-200.85 435.132) scale(1.98 1.481)" font-size="22" style="stroke-width:0.1px">/</text><text class="sr" transform="rotate(-90) translate(-187.607 431.3) scale(1.21 1.08)" font-size="22" style="stroke-width:0.4px">kpc</text><text class="nb" transform="rotate(-90) translate(-147.956 424.3) scale(1.147 0.997)" font-size="13.5">3</text><text class="sr" transform="rotate(-90) translate(-138.13 431.862) scale(0.949 1.227)" font-size="22">]</text>
</g>
<g class="ax">
<rect x="89.6" y="442" width="15.7" height="292" fill="#999" stroke="none"/>
<line x1="94.2" y1="734" x2="94.2" y2="727"/>
<line x1="94.2" y1="442" x2="94.2" y2="449"/>
<line x1="98.7" y1="734" x2="98.7" y2="727"/>
<line x1="98.7" y1="442" x2="98.7" y2="449"/>
<line x1="102.7" y1="734" x2="102.7" y2="720.2"/>
<line x1="102.7" y1="442" x2="102.7" y2="455.8"/>
<line x1="129" y1="734" x2="129" y2="727"/>
<line x1="129" y1="442" x2="129" y2="449"/>
<line x1="144.3" y1="734" x2="144.3" y2="727"/>
<line x1="144.3" y1="442" x2="144.3" y2="449"/>
<line x1="155.2" y1="734" x2="155.2" y2="727"/>
<line x1="155.2" y1="442" x2="155.2" y2="449"/>
<line x1="163.7" y1="734" x2="163.7" y2="727"/>
<line x1="163.7" y1="442" x2="163.7" y2="449"/>
<line x1="170.6" y1="734" x2="170.6" y2="727"/>
<line x1="170.6" y1="442" x2="170.6" y2="449"/>
<line x1="176.4" y1="734" x2="176.4" y2="727"/>
<line x1="176.4" y1="442" x2="176.4" y2="449"/>
<line x1="181.5" y1="734" x2="181.5" y2="727"/>
<line x1="181.5" y1="442" x2="181.5" y2="449"/>
<line x1="186" y1="734" x2="186" y2="727"/>
<line x1="186" y1="442" x2="186" y2="449"/>
<line x1="189.9" y1="734" x2="189.9" y2="720.2"/>
<line x1="189.9" y1="442" x2="189.9" y2="455.8"/>
<line x1="216.2" y1="734" x2="216.2" y2="727"/>
<line x1="216.2" y1="442" x2="216.2" y2="449"/>
<line x1="231.6" y1="734" x2="231.6" y2="727"/>
<line x1="231.6" y1="442" x2="231.6" y2="449"/>
<line x1="242.5" y1="734" x2="242.5" y2="727"/>
<line x1="242.5" y1="442" x2="242.5" y2="449"/>
<line x1="250.9" y1="734" x2="250.9" y2="727"/>
<line x1="250.9" y1="442" x2="250.9" y2="449"/>
<line x1="257.8" y1="734" x2="257.8" y2="727"/>
<line x1="257.8" y1="442" x2="257.8" y2="449"/>
<line x1="263.7" y1="734" x2="263.7" y2="727"/>
<line x1="263.7" y1="442" x2="263.7" y2="449"/>
<line x1="268.7" y1="734" x2="268.7" y2="727"/>
<line x1="268.7" y1="442" x2="268.7" y2="449"/>
<line x1="273.2" y1="734" x2="273.2" y2="727"/>
<line x1="273.2" y1="442" x2="273.2" y2="449"/>
<line x1="277.2" y1="734" x2="277.2" y2="720.2"/>
<line x1="277.2" y1="442" x2="277.2" y2="455.8"/>
<line x1="303.5" y1="734" x2="303.5" y2="727"/>
<line x1="303.5" y1="442" x2="303.5" y2="449"/>
<line x1="318.8" y1="734" x2="318.8" y2="727"/>
<line x1="318.8" y1="442" x2="318.8" y2="449"/>
<line x1="329.7" y1="734" x2="329.7" y2="727"/>
<line x1="329.7" y1="442" x2="329.7" y2="449"/>
<line x1="338.2" y1="734" x2="338.2" y2="727"/>
<line x1="338.2" y1="442" x2="338.2" y2="449"/>
<line x1="345.1" y1="734" x2="345.1" y2="727"/>
<line x1="345.1" y1="442" x2="345.1" y2="449"/>
<line x1="350.9" y1="734" x2="350.9" y2="727"/>
<line x1="350.9" y1="442" x2="350.9" y2="449"/>
<line x1="356" y1="734" x2="356" y2="727"/>
<line x1="356" y1="442" x2="356" y2="449"/>
<line x1="360.5" y1="734" x2="360.5" y2="727"/>
<line x1="360.5" y1="442" x2="360.5" y2="449"/>
<line x1="364.4" y1="734" x2="364.4" y2="720.2"/>
<line x1="364.4" y1="442" x2="364.4" y2="455.8"/>
<g stroke-width="2.1">
<line x1="89.6" y1="721.5" x2="96.6" y2="721.5"/>
<line x1="369.1" y1="721.5" x2="362.1" y2="721.5"/>
<line x1="89.6" y1="714.1" x2="96.6" y2="714.1"/>
<line x1="369.1" y1="714.1" x2="362.1" y2="714.1"/>
<line x1="89.6" y1="708.9" x2="96.6" y2="708.9"/>
<line x1="369.1" y1="708.9" x2="362.1" y2="708.9"/>
<line x1="89.6" y1="704.9" x2="96.6" y2="704.9"/>
<line x1="369.1" y1="704.9" x2="362.1" y2="704.9"/>
<line x1="89.6" y1="701.6" x2="96.6" y2="701.6"/>
<line x1="369.1" y1="701.6" x2="362.1" y2="701.6"/>
<line x1="89.6" y1="698.8" x2="96.6" y2="698.8"/>
<line x1="369.1" y1="698.8" x2="362.1" y2="698.8"/>
<line x1="89.6" y1="696.4" x2="96.6" y2="696.4"/>
<line x1="369.1" y1="696.4" x2="362.1" y2="696.4"/>
<line x1="89.6" y1="694.2" x2="96.6" y2="694.2"/>
<line x1="369.1" y1="694.2" x2="362.1" y2="694.2"/>
<line x1="89.6" y1="692.3" x2="103.4" y2="692.3"/>
<line x1="369.1" y1="692.3" x2="355.3" y2="692.3"/>
<line x1="89.6" y1="679.8" x2="96.6" y2="679.8"/>
<line x1="369.1" y1="679.8" x2="362.1" y2="679.8"/>
<line x1="89.6" y1="672.4" x2="96.6" y2="672.4"/>
<line x1="369.1" y1="672.4" x2="362.1" y2="672.4"/>
<line x1="89.6" y1="667.2" x2="96.6" y2="667.2"/>
<line x1="369.1" y1="667.2" x2="362.1" y2="667.2"/>
<line x1="89.6" y1="663.2" x2="96.6" y2="663.2"/>
<line x1="369.1" y1="663.2" x2="362.1" y2="663.2"/>
<line x1="89.6" y1="659.9" x2="96.6" y2="659.9"/>
<line x1="369.1" y1="659.9" x2="362.1" y2="659.9"/>
<line x1="89.6" y1="657.1" x2="96.6" y2="657.1"/>
<line x1="369.1" y1="657.1" x2="362.1" y2="657.1"/>
<line x1="89.6" y1="654.7" x2="96.6" y2="654.7"/>
<line x1="369.1" y1="654.7" x2="362.1" y2="654.7"/>
<line x1="89.6" y1="652.5" x2="96.6" y2="652.5"/>
<line x1="369.1" y1="652.5" x2="362.1" y2="652.5"/>
<line x1="89.6" y1="650.6" x2="103.4" y2="650.6"/>
<line x1="369.1" y1="650.6" x2="355.3" y2="650.6"/>
<line x1="89.6" y1="638" x2="96.6" y2="638"/>
<line x1="369.1" y1="638" x2="362.1" y2="638"/>
<line x1="89.6" y1="630.7" x2="96.6" y2="630.7"/>
<line x1="369.1" y1="630.7" x2="362.1" y2="630.7"/>
<line x1="89.6" y1="625.5" x2="96.6" y2="625.5"/>
<line x1="369.1" y1="625.5" x2="362.1" y2="625.5"/>
<line x1="89.6" y1="621.4" x2="96.6" y2="621.4"/>
<line x1="369.1" y1="621.4" x2="362.1" y2="621.4"/>
<line x1="89.6" y1="618.1" x2="96.6" y2="618.1"/>
<line x1="369.1" y1="618.1" x2="362.1" y2="618.1"/>
<line x1="89.6" y1="615.3" x2="96.6" y2="615.3"/>
<line x1="369.1" y1="615.3" x2="362.1" y2="615.3"/>
<line x1="89.6" y1="612.9" x2="96.6" y2="612.9"/>
<line x1="369.1" y1="612.9" x2="362.1" y2="612.9"/>
<line x1="89.6" y1="610.8" x2="96.6" y2="610.8"/>
<line x1="369.1" y1="610.8" x2="362.1" y2="610.8"/>
<line x1="89.6" y1="608.9" x2="103.4" y2="608.9"/>
<line x1="369.1" y1="608.9" x2="355.3" y2="608.9"/>
<line x1="89.6" y1="596.3" x2="96.6" y2="596.3"/>
<line x1="369.1" y1="596.3" x2="362.1" y2="596.3"/>
<line x1="89.6" y1="589" x2="96.6" y2="589"/>
<line x1="369.1" y1="589" x2="362.1" y2="589"/>
<line x1="89.6" y1="583.8" x2="96.6" y2="583.8"/>
<line x1="369.1" y1="583.8" x2="362.1" y2="583.8"/>
<line x1="89.6" y1="579.7" x2="96.6" y2="579.7"/>
<line x1="369.1" y1="579.7" x2="362.1" y2="579.7"/>
<line x1="89.6" y1="576.4" x2="96.6" y2="576.4"/>
<line x1="369.1" y1="576.4" x2="362.1" y2="576.4"/>
<line x1="89.6" y1="573.6" x2="96.6" y2="573.6"/>
<line x1="369.1" y1="573.6" x2="362.1" y2="573.6"/>
<line x1="89.6" y1="571.2" x2="96.6" y2="571.2"/>
<line x1="369.1" y1="571.2" x2="362.1" y2="571.2"/>
<line x1="89.6" y1="569.1" x2="96.6" y2="569.1"/>
<line x1="369.1" y1="569.1" x2="362.1" y2="569.1"/>
<line x1="89.6" y1="567.2" x2="103.4" y2="567.2"/>
<line x1="369.1" y1="567.2" x2="355.3" y2="567.2"/>
<line x1="89.6" y1="554.6" x2="96.6" y2="554.6"/>
<line x1="369.1" y1="554.6" x2="362.1" y2="554.6"/>
<line x1="89.6" y1="547.3" x2="96.6" y2="547.3"/>
<line x1="369.1" y1="547.3" x2="362.1" y2="547.3"/>
<line x1="89.6" y1="542" x2="96.6" y2="542"/>
<line x1="369.1" y1="542" x2="362.1" y2="542"/>
<line x1="89.6" y1="538" x2="96.6" y2="538"/>
<line x1="369.1" y1="538" x2="362.1" y2="538"/>
<line x1="89.6" y1="534.7" x2="96.6" y2="534.7"/>
<line x1="369.1" y1="534.7" x2="362.1" y2="534.7"/>
<line x1="89.6" y1="531.9" x2="96.6" y2="531.9"/>
<line x1="369.1" y1="531.9" x2="362.1" y2="531.9"/>
<line x1="89.6" y1="529.5" x2="96.6" y2="529.5"/>
<line x1="369.1" y1="529.5" x2="362.1" y2="529.5"/>
<line x1="89.6" y1="527.4" x2="96.6" y2="527.4"/>
<line x1="369.1" y1="527.4" x2="362.1" y2="527.4"/>
<line x1="89.6" y1="525.4" x2="103.4" y2="525.4"/>
<line x1="369.1" y1="525.4" x2="355.3" y2="525.4"/>
<line x1="89.6" y1="512.9" x2="96.6" y2="512.9"/>
<line x1="369.1" y1="512.9" x2="362.1" y2="512.9"/>
<line x1="89.6" y1="505.5" x2="96.6" y2="505.5"/>
<line x1="369.1" y1="505.5" x2="362.1" y2="505.5"/>
<line x1="89.6" y1="500.3" x2="96.6" y2="500.3"/>
<line x1="369.1" y1="500.3" x2="362.1" y2="500.3"/>
<line x1="89.6" y1="496.3" x2="96.6" y2="496.3"/>
<line x1="369.1" y1="496.3" x2="362.1" y2="496.3"/>
<line x1="89.6" y1="493" x2="96.6" y2="493"/>
<line x1="369.1" y1="493" x2="362.1" y2="493"/>
<line x1="89.6" y1="490.2" x2="96.6" y2="490.2"/>
<line x1="369.1" y1="490.2" x2="362.1" y2="490.2"/>
<line x1="89.6" y1="487.8" x2="96.6" y2="487.8"/>
<line x1="369.1" y1="487.8" x2="362.1" y2="487.8"/>
<line x1="89.6" y1="485.6" x2="96.6" y2="485.6"/>
<line x1="369.1" y1="485.6" x2="362.1" y2="485.6"/>
<line x1="89.6" y1="483.7" x2="103.4" y2="483.7"/>
<line x1="369.1" y1="483.7" x2="355.3" y2="483.7"/>
<line x1="89.6" y1="471.2" x2="96.6" y2="471.2"/>
<line x1="369.1" y1="471.2" x2="362.1" y2="471.2"/>
<line x1="89.6" y1="463.8" x2="96.6" y2="463.8"/>
<line x1="369.1" y1="463.8" x2="362.1" y2="463.8"/>
<line x1="89.6" y1="458.6" x2="96.6" y2="458.6"/>
<line x1="369.1" y1="458.6" x2="362.1" y2="458.6"/>
<line x1="89.6" y1="454.6" x2="96.6" y2="454.6"/>
<line x1="369.1" y1="454.6" x2="362.1" y2="454.6"/>
<line x1="89.6" y1="451.3" x2="96.6" y2="451.3"/>
<line x1="369.1" y1="451.3" x2="362.1" y2="451.3"/>
<line x1="89.6" y1="448.5" x2="96.6" y2="448.5"/>
<line x1="369.1" y1="448.5" x2="362.1" y2="448.5"/>
<line x1="89.6" y1="446" x2="96.6" y2="446"/>
<line x1="369.1" y1="446" x2="362.1" y2="446"/>
<line x1="89.6" y1="443.9" x2="96.6" y2="443.9"/>
<line x1="369.1" y1="443.9" x2="362.1" y2="443.9"/>
</g>
</g>
<clipPath id="c3"><rect x="89.6" y="442" width="279.5" height="292"/></clipPath>
<g class="dat" clip-path="url(#c3)">
<path d="M88.6 536.7L94.8 537.8L115.3 544.4L131.5 543.8L141.7 542.5L157.5 547.2L163.5 545.4L168.6 547.1L175.5 546.7L183.6 549.2L193.2 552.4L202.6 557.1L212.1 562.8L221.8 569.4L231.5 576.5L241.2 584L252.9 592.7L262.4 599.9L272.2 607.3L282 614.5L284.5 616.5L291.4 626L301.3 635.2L311.1 644.8L322.4 656.8L332.1 667L341.6 677.4L343.5 675.3L344.4 680L347.5 683.6L349.4 689.1L356.5 699.4L361.4 704.5L367.6 712L371.2 709L364.8 701.5L360.1 696.6L353.4 686.9L351.5 681.4L348.6 678L346.7 672.1L344.4 673.6L335.7 663.8L326 653.4L314.7 641.2L304.9 631.4L295.4 622.4L288.7 613.1L285.4 610.1L275.6 602.7L266 595.3L256.5 587.9L245 579.2L235.3 571.5L225.6 564.2L215.7 557.2L205.8 551.3L195.8 546.2L185.8 542.6L176.5 539.7L169.4 539.9L163.5 538L158.5 539.8L142.7 534.9L130.9 536L116.7 536.6L97.2 529.8L90 528.5Z" fill="#747474" stroke="none"/>
<path d="M89.3 532.6L96 533.8L116 540.5L131.2 539.9L142.2 538.7L158 543.5L163.5 541.7L169 543.5L176 543.2L184.7 545.9L194.5 549.3L204.2 554.2L213.9 560L223.7 566.8L233.4 574L243.1 581.6L254.7 590.3L264.2 597.6L273.9 605L283.7 612.3L286.6 614.8L293.4 624.2L303.1 633.3L312.9 643L324.2 655.1L333.9 665.4L343 675.5L345.1 673.7L346.5 679L349.5 682.5L351.4 688L358.3 698L363.1 703L369.4 710.5" stroke="#000" stroke-width="2.5"/>
<path d="M89.6 504L93.6 505.5L97.6 507L101.6 508.5L105.6 510L109.6 511.6L113.6 513.2L117.6 514.8L121.6 516.5L125.6 518.2L129.6 519.9L133.6 521.7L137.6 523.5L141.6 525.3L145.6 527.2L149.6 529.1L153.6 531L157.6 532.9L161.6 535L165.6 537L169.6 539.1L173.6 541.2L177.6 543.4L181.6 545.5L185.6 547.8L189.6 550.1L193.6 552.4L197.6 554.8L201.6 557.2L205.6 559.6L209.6 562.1L213.6 564.7L217.6 567.3L221.6 569.9L225.6 572.6L229.6 575.4L233.6 578.2L237.6 581L241.6 583.9L245.6 586.9L249.6 589.9L253.6 593L257.6 596.1L261.6 599.3L265.6 602.5L269.6 605.9L273.6 609.2L277.6 612.7L281.6 616.2L285.6 619.7L289.6 623.4L293.6 627.1L297.6 630.8L301.6 634.7L305.6 638.6L309.6 642.5L313.6 646.6L317.6 650.7L321.6 655L325.6 659.2L329.6 663.6L333.6 668.1L337.6 672.6L341.6 677.2L345.6 681.9L349.6 686.7L353.6 691.6L357.6 696.6L361.6 701.7L365.6 706.8L369.4 711.8" stroke="#f00" stroke-width="2.2" stroke-dasharray="11.9 8.0"/>
<path d="M93.4 501L97.4 502.6L101.4 504.2L105.4 505.8L109.4 507.4L113.4 509.1L117.4 510.8L121.4 512.5L125.4 514.3L129.4 516.1L133.4 517.9L137.4 519.8L141.4 521.7L145.4 523.6L149.4 525.6L153.4 527.6L157.4 529.6L161.4 531.7L165.4 533.8L169.4 536L173.4 538.2L177.4 540.4L181.4 542.7L185.4 545L189.4 547.3L193.4 549.7L197.4 552.2L201.4 554.6L205.4 557.2L209.4 559.7L213.4 562.3L217.4 565L221.4 567.7L225.4 570.5L229.4 573.3L233.4 576.1L237.4 579L241.4 582L245.4 585L249.4 588.1L253.4 591.2L257.4 594.4L261.4 597.6L265.4 600.9L269.4 604.3L273.4 607.7L277.4 611.1L281.4 614.7L285.4 618.3L289.4 621.9L293.4 625.7L297.4 629.5L301.4 633.3L305.4 637.3L309.4 641.3L313.4 645.3L317.4 649.5L321.4 653.7L325.4 658L329.4 662.4L333.4 666.8L337.4 671.4L340 674.4L343.7 677.1L349.5 683.4L351.4 689.2L358.3 699L363.1 703.8L369.4 711.2" stroke="#00f" stroke-width="2.2" stroke-dasharray="11.5 7.7"/>
</g>
<g class="ax">
<rect x="89.6" y="442" width="279.5" height="292" fill="none" stroke-width="2.1"/>
</g><g class="ax">
<text class="nr" transform="translate(98.372 760.45) scale(0.664 1.02)" font-size="21.3">1</text>
<text class="nr" transform="translate(179.1 760.45) scale(1.017 1.005)" font-size="21.3">10</text>
<text class="nr" transform="translate(259.648 760.45) scale(1.049 1.005)" font-size="21.3">100</text>
<text class="nr" transform="translate(340.109 760.45) scale(1.073 1.005)" font-size="21.3">1000</text>
<text class="sr" transform="translate(189.255 795.55) scale(1.464 1.12)" font-size="22" style="stroke-width:0.4px">r</text> <text class="sr" transform="translate(211.042 796.074) scale(1.031 1.173)" font-size="22">[</text><text class="sr" transform="translate(220.686 795.55) scale(1.226 1.08)" font-size="22" style="stroke-width:0.4px">kpc</text><text class="sr" transform="translate(261.573 796.074) scale(1.072 1.173)" font-size="22">]</text>
<text class="nr" transform="translate(26.631 742.75) scale(1.059 1.012)" font-size="21.3">1000</text>
<text class="nr" transform="translate(45.323 701.029) scale(1.003 1.012)" font-size="21.3">10</text><text class="nb" transform="translate(70.528 694.929) scale(0.844 1.055)" font-size="13.5">4</text>
<text class="nr" transform="translate(45.323 659.307) scale(1.003 1.012)" font-size="21.3">10</text><text class="nb" transform="translate(70.323 653.207) scale(0.908 1.055)" font-size="13.5">5</text>
<text class="nr" transform="translate(45.323 617.586) scale(1.003 1.012)" font-size="21.3">10</text><text class="nb" transform="translate(70.238 611.486) scale(0.935 1.04)" font-size="13.5">6</text>
<text class="nr" transform="translate(45.323 575.864) scale(1.003 1.012)" font-size="21.3">10</text><text class="nb" transform="translate(70.141 569.764) scale(0.963 1.055)" font-size="13.5">7</text>
<text class="nr" transform="translate(45.323 534.143) scale(1.003 1.012)" font-size="21.3">10</text><text class="nb" transform="translate(70.308 528.043) scale(0.915 1.04)" font-size="13.5">8</text>
<text class="nr" transform="translate(45.323 492.421) scale(1.003 1.012)" font-size="21.3">10</text><text class="nb" transform="translate(70.263 486.321) scale(0.933 1.04)" font-size="13.5">9</text>
<text class="nr" transform="translate(37.53 450.7) scale(0.998 1.012)" font-size="21.3">10</text><text class="nb" transform="translate(63.088 444.3) scale(0.955 1.018)" font-size="13.5">10</text>
<text class="si" transform="rotate(-90) translate(-648.893 20.837) scale(1.177 1.006)" font-size="22" style="stroke-width:0.5px">ρ</text><text class="sr" transform="rotate(-90) translate(-635.658 22.162) scale(0.97 1.227)" font-size="22">[</text><text class="sr" transform="rotate(-90) translate(-625.41 21.6) scale(0.686 1.046)" font-size="22" style="stroke-width:1.05px">M</text><circle cx="23" cy="605.1" r="4.2" fill="none" stroke-width="1.8"/><circle cx="23" cy="605.1" r="1.4" stroke="none"/><text class="sr" transform="rotate(-90) translate(-598.05 25.432) scale(1.98 1.481)" font-size="22" style="stroke-width:0.1px">/</text><text class="sr" transform="rotate(-90) translate(-584.807 21.6) scale(1.21 1.08)" font-size="22" style="stroke-width:0.4px">kpc</text><text class="nb" transform="rotate(-90) translate(-545.156 14.6) scale(1.147 0.997)" font-size="13.5">3</text><text class="sr" transform="rotate(-90) translate(-535.33 22.162) scale(0.949 1.227)" font-size="22">]</text>
</g>
<g class="ax">
<rect x="499.3" y="442" width="15.7" height="292" fill="#999" stroke="none"/>
<line x1="503.9" y1="734" x2="503.9" y2="727"/>
<line x1="503.9" y1="442" x2="503.9" y2="449"/>
<line x1="508.4" y1="734" x2="508.4" y2="727"/>
<line x1="508.4" y1="442" x2="508.4" y2="449"/>
<line x1="512.4" y1="734" x2="512.4" y2="720.2"/>
<line x1="512.4" y1="442" x2="512.4" y2="455.8"/>
<line x1="538.7" y1="734" x2="538.7" y2="727"/>
<line x1="538.7" y1="442" x2="538.7" y2="449"/>
<line x1="554" y1="734" x2="554" y2="727"/>
<line x1="554" y1="442" x2="554" y2="449"/>
<line x1="564.9" y1="734" x2="564.9" y2="727"/>
<line x1="564.9" y1="442" x2="564.9" y2="449"/>
<line x1="573.4" y1="734" x2="573.4" y2="727"/>
<line x1="573.4" y1="442" x2="573.4" y2="449"/>
<line x1="580.3" y1="734" x2="580.3" y2="727"/>
<line x1="580.3" y1="442" x2="580.3" y2="449"/>
<line x1="586.1" y1="734" x2="586.1" y2="727"/>
<line x1="586.1" y1="442" x2="586.1" y2="449"/>
<line x1="591.2" y1="734" x2="591.2" y2="727"/>
<line x1="591.2" y1="442" x2="591.2" y2="449"/>
<line x1="595.7" y1="734" x2="595.7" y2="727"/>
<line x1="595.7" y1="442" x2="595.7" y2="449"/>
<line x1="599.6" y1="734" x2="599.6" y2="720.2"/>
<line x1="599.6" y1="442" x2="599.6" y2="455.8"/>
<line x1="625.9" y1="734" x2="625.9" y2="727"/>
<line x1="625.9" y1="442" x2="625.9" y2="449"/>
<line x1="641.3" y1="734" x2="641.3" y2="727"/>
<line x1="641.3" y1="442" x2="641.3" y2="449"/>
<line x1="652.2" y1="734" x2="652.2" y2="727"/>
<line x1="652.2" y1="442" x2="652.2" y2="449"/>
<line x1="660.6" y1="734" x2="660.6" y2="727"/>
<line x1="660.6" y1="442" x2="660.6" y2="449"/>
<line x1="667.5" y1="734" x2="667.5" y2="727"/>
<line x1="667.5" y1="442" x2="667.5" y2="449"/>
<line x1="673.4" y1="734" x2="673.4" y2="727"/>
<line x1="673.4" y1="442" x2="673.4" y2="449"/>
<line x1="678.4" y1="734" x2="678.4" y2="727"/>
<line x1="678.4" y1="442" x2="678.4" y2="449"/>
<line x1="682.9" y1="734" x2="682.9" y2="727"/>
<line x1="682.9" y1="442" x2="682.9" y2="449"/>
<line x1="686.9" y1="734" x2="686.9" y2="720.2"/>
<line x1="686.9" y1="442" x2="686.9" y2="455.8"/>
<line x1="713.2" y1="734" x2="713.2" y2="727"/>
<line x1="713.2" y1="442" x2="713.2" y2="449"/>
<line x1="728.5" y1="734" x2="728.5" y2="727"/>
<line x1="728.5" y1="442" x2="728.5" y2="449"/>
<line x1="739.4" y1="734" x2="739.4" y2="727"/>
<line x1="739.4" y1="442" x2="739.4" y2="449"/>
<line x1="747.9" y1="734" x2="747.9" y2="727"/>
<line x1="747.9" y1="442" x2="747.9" y2="449"/>
<line x1="754.8" y1="734" x2="754.8" y2="727"/>
<line x1="754.8" y1="442" x2="754.8" y2="449"/>
<line x1="760.6" y1="734" x2="760.6" y2="727"/>
<line x1="760.6" y1="442" x2="760.6" y2="449"/>
<line x1="765.7" y1="734" x2="765.7" y2="727"/>
<line x1="765.7" y1="442" x2="765.7" y2="449"/>
<line x1="770.2" y1="734" x2="770.2" y2="727"/>
<line x1="770.2" y1="442" x2="770.2" y2="449"/>
<line x1="774.1" y1="734" x2="774.1" y2="720.2"/>
<line x1="774.1" y1="442" x2="774.1" y2="455.8"/>
<line x1="499.3" y1="726.5" x2="513.1" y2="726.5"/>
<line x1="779.2" y1="726.5" x2="765.4" y2="726.5"/>
<line x1="499.3" y1="718.6" x2="506.3" y2="718.6"/>
<line x1="779.2" y1="718.6" x2="772.2" y2="718.6"/>
<line x1="499.3" y1="710.7" x2="506.3" y2="710.7"/>
<line x1="779.2" y1="710.7" x2="772.2" y2="710.7"/>
<line x1="499.3" y1="702.8" x2="506.3" y2="702.8"/>
<line x1="779.2" y1="702.8" x2="772.2" y2="702.8"/>
<line x1="499.3" y1="694.9" x2="506.3" y2="694.9"/>
<line x1="779.2" y1="694.9" x2="772.2" y2="694.9"/>
<line x1="499.3" y1="687" x2="513.1" y2="687"/>
<line x1="779.2" y1="687" x2="765.4" y2="687"/>
<line x1="499.3" y1="679" x2="506.3" y2="679"/>
<line x1="779.2" y1="679" x2="772.2" y2="679"/>
<line x1="499.3" y1="671.1" x2="506.3" y2="671.1"/>
<line x1="779.2" y1="671.1" x2="772.2" y2="671.1"/>
<line x1="499.3" y1="663.2" x2="506.3" y2="663.2"/>
<line x1="779.2" y1="663.2" x2="772.2" y2="663.2"/>
<line x1="499.3" y1="655.3" x2="506.3" y2="655.3"/>
<line x1="779.2" y1="655.3" x2="772.2" y2="655.3"/>
<line x1="499.3" y1="647.4" x2="513.1" y2="647.4"/>
<line x1="779.2" y1="647.4" x2="765.4" y2="647.4"/>
<line x1="499.3" y1="639.5" x2="506.3" y2="639.5"/>
<line x1="779.2" y1="639.5" x2="772.2" y2="639.5"/>
<line x1="499.3" y1="631.6" x2="506.3" y2="631.6"/>
<line x1="779.2" y1="631.6" x2="772.2" y2="631.6"/>
<line x1="499.3" y1="623.7" x2="506.3" y2="623.7"/>
<line x1="779.2" y1="623.7" x2="772.2" y2="623.7"/>
<line x1="499.3" y1="615.8" x2="506.3" y2="615.8"/>
<line x1="779.2" y1="615.8" x2="772.2" y2="615.8"/>
<line x1="499.3" y1="607.9" x2="513.1" y2="607.9"/>
<line x1="779.2" y1="607.9" x2="765.4" y2="607.9"/>
<line x1="499.3" y1="599.9" x2="506.3" y2="599.9"/>
<line x1="779.2" y1="599.9" x2="772.2" y2="599.9"/>
<line x1="499.3" y1="592" x2="506.3" y2="592"/>
<line x1="779.2" y1="592" x2="772.2" y2="592"/>
<line x1="499.3" y1="584.1" x2="506.3" y2="584.1"/>
<line x1="779.2" y1="584.1" x2="772.2" y2="584.1"/>
<line x1="499.3" y1="576.2" x2="506.3" y2="576.2"/>
<line x1="779.2" y1="576.2" x2="772.2" y2="576.2"/>
<line x1="499.3" y1="568.3" x2="513.1" y2="568.3"/>
<line x1="779.2" y1="568.3" x2="765.4" y2="568.3"/>
<line x1="499.3" y1="560.4" x2="506.3" y2="560.4"/>
<line x1="779.2" y1="560.4" x2="772.2" y2="560.4"/>
<line x1="499.3" y1="552.5" x2="506.3" y2="552.5"/>
<line x1="779.2" y1="552.5" x2="772.2" y2="552.5"/>
<line x1="499.3" y1="544.6" x2="506.3" y2="544.6"/>
<line x1="779.2" y1="544.6" x2="772.2" y2="544.6"/>
<line x1="499.3" y1="536.7" x2="506.3" y2="536.7"/>
<line x1="779.2" y1="536.7" x2="772.2" y2="536.7"/>
<line x1="499.3" y1="528.8" x2="513.1" y2="528.8"/>
<line x1="779.2" y1="528.8" x2="765.4" y2="528.8"/>
<line x1="499.3" y1="520.8" x2="506.3" y2="520.8"/>
<line x1="779.2" y1="520.8" x2="772.2" y2="520.8"/>
<line x1="499.3" y1="512.9" x2="506.3" y2="512.9"/>
<line x1="779.2" y1="512.9" x2="772.2" y2="512.9"/>
<line x1="499.3" y1="505" x2="506.3" y2="505"/>
<line x1="779.2" y1="505" x2="772.2" y2="505"/>
<line x1="499.3" y1="497.1" x2="506.3" y2="497.1"/>
<line x1="779.2" y1="497.1" x2="772.2" y2="497.1"/>
<line x1="499.3" y1="489.2" x2="513.1" y2="489.2"/>
<line x1="779.2" y1="489.2" x2="765.4" y2="489.2"/>
<line x1="499.3" y1="481.3" x2="506.3" y2="481.3"/>
<line x1="779.2" y1="481.3" x2="772.2" y2="481.3"/>
<line x1="499.3" y1="473.4" x2="506.3" y2="473.4"/>
<line x1="779.2" y1="473.4" x2="772.2" y2="473.4"/>
<line x1="499.3" y1="465.5" x2="506.3" y2="465.5"/>
<line x1="779.2" y1="465.5" x2="772.2" y2="465.5"/>
<line x1="499.3" y1="457.6" x2="506.3" y2="457.6"/>
<line x1="779.2" y1="457.6" x2="772.2" y2="457.6"/>
<line x1="499.3" y1="449.6" x2="513.1" y2="449.6"/>
<line x1="779.2" y1="449.6" x2="765.4" y2="449.6"/>
</g>
<clipPath id="c4"><rect x="499.3" y="442" width="279.9" height="292"/></clipPath>
<g class="dat" clip-path="url(#c4)">
<path d="M499.3 549.5L506 546.8L516.9 542.2L531.5 537.6L542.4 534.9L553.4 533.6L568 534.5L580.8 534.9L597.2 533L613.6 531.2L626.4 530.3L645 529.4" stroke="#f00" stroke-width="1.9" stroke-dasharray="0.1 4.6" stroke-linecap="round"/>
<path d="M499.3 477.8L515 476L525.1 474.7L530.6 487.4L538.8 504.8L547 518.5L552.5 527.6L562.5 530.3L573.5 533.1L580.8 531.2L591.7 529.1L604.5 530.3L615.4 529.4L630 529.5" stroke="#f00" stroke-width="1.9" stroke-dasharray="11.5 7.7"/>
<path d="M499.3 561.4L513.2 561.4L525.1 560.8L538.8 557.7L551.6 553.5L560.7 552.2L568 549.5L573.5 545.5L578.9 543.6L586.2 538.5L597.2 533.1L606.3 530.3L615.4 527.2L626.4 528L645 529" stroke="#f00" stroke-width="1.9"/>
<path d="M598 529.2L598.3 529.4L598.6 529.2L599 529.3L599.5 529.3L599.9 529.4L600.2 529.2L600.8 529.4L601.1 529.1L601.7 529.6L602.1 528.9L602.4 529.7L602.8 529.2L603.1 529.6L603.7 529.2L604.2 529.7L604.6 529L604.9 529.4L605.2 528.9L605.6 529.7L606.1 528.9L606.5 530L607 529L607.5 529.9L608.1 528.7L608.4 530.2L608.8 528.8L609.3 529.7L609.7 529.2L610.3 530.3L610.7 528.4L611.1 530.3L611.6 528.5L612 530.5L612.6 528.6L613.2 529.6L613.7 528.3L614.3 530.7L614.7 528.6L615.2 529.6L615.6 528.9L615.9 529.7L616.5 528.9L616.8 530.3L617.4 529.1L617.9 530.5L618.4 528L619 530.1L619.4 528.5L620 530.9L620.4 528.8L620.7 530L621.2 528.2L621.5 529.4L621.9 528.5L622.4 530.9L622.9 528.3L623.4 530.7L623.7 527.8L624.3 530.9L624.8 528.4L625.2 529.8L625.7 529L626 530L626.4 528.5L626.6 529.4L627 528.9L627.4 529.5L628 528.1L628.3 530.1L628.7 528.4L629 530.9L629.6 528.2L630.1 529.7L630.4 528.4L630.7 530.9L631.1 529.2L631.7 530.5L632 528.1L632.3 530.5L632.9 527.7L633.4 530.1L633.8 528.7L634.4 530.6L634.9 528.4L635.3 530.9L635.9 527.6L636.5 530.9L637 528.6L637.4 530.3L637.7 529.1L638.1 530.1L638.6 527.5L639 531.1L639.7 527.5L640.1 530.1L640.4 528.6L640.8 530.7L641.4 527.6L641.8 530.8L642.4 528.9L642.9 531.1L643.4 527.7L643.9 530L644.4 528.3L645 531.2L645.4 528.2L646 530.9L646.3 528.7L646.7 531.1L647.2 528.7L647.8 531.2L648.3 528.3L648.8 529.9L649 527.4L649.5 530.6L650.1 528.1L650.7 531L651.1 528.4L651.4 530.1L651.9 528.4L652.4 529.9L652.9 528.3L653.4 530.7L654 528.1L654.6 530.6L655 528L655.3 530.5L655.7 529.2L656.2 530L656.7 527.7L657.1 530.3L657.6 527.9L658.1 529.8L658.6 528.4L659 531L659.4 527.9L660 531.2L660.4 527.8L660.8 530.6L661.4 528.1L661.8 530.6L662.4 527.7L663 531.2L663.4 527.9L664 531.1L664.3 528.7L664.7 529.7L665.1 528.9L665.6 531L666.2 528.6L666.7 530.9L667.1 527.4L667.7 530.1L668.3 528.1L668.7 531.3L669.3 528.6L669.7 530.7L670.1 528.5L670.5 531L670.8 527.9L671.2 529.5L671.6 527.8L672.1 529.7L672.7 527.5L673.3 529.8L673.7 529L674.2 530.2L674.5 528.1L675.1 531.1L675.5 528.6L676.1 530.8L676.6 528.8L676.9 530.9L677.3 528.9L677.9 530.9L678.5 528.8L679.1 529.7L679.7 528L680 530.8L680.7 528.4L681 530.7L681.3 528.7L681.7 529.6L682 528.3L682.4 531.1L682.7 527.9L683.1 530.4L683.4 528.4L683.6 531L684.1 528.5L684.5 531.3L684.9 527.4L685.3 530.7L685.8 528.1L686.3 531L686.9 528.2L687.5 531.1L688 528.1L688.4 529.7L688.7 528.9L689.2 530.3L689.6 528.9L690.1 531.4L690.7 528.3L691 530.4L691.4 528.6L691.9 530.4L692.5 527.2L693 530.4L693.6 528.3L694 529.4L694.4 527.9L694.8 530.3L695.3 529.3L695.7 530L696.1 529.1L696.3 530.6L696.7 527.7L697.2 531.4L697.7 527.5L698.3 530.8L698.6 527.1L699 531.4L699.5 529.1L700 531.7L700.5 527.5L701.1 530.2L701.6 527.9L702.1 531.6L702.7 527.7L703.3 531.5L703.8 528.5L704.1 530.3L704.5 528.9L705.1 531.3L705.5 527.7L706.1 531.2L706.3 527.3L706.9 531.2L707.3 527.6L707.6 531.7L708 529L708.4 531.7L708.7 527.4L709.3 531.3L709.7 527.9L710.2 531.8L710.7 527.6L711 530.4L711.4 527.4L711.8 531.5L712.1 529.1L712.4 531.7L712.9 527.6L713.3 531.4L713.7 528L714.1 532.2L714.4 527L715 529.9L715.4 527.3L716.1 531.4L716.4 528.6L717 530.8L717.5 528.9L718 532.4L718.3 527.3L718.8 532.3L719.3 528.6L719.9 531.5L720.1 529.7L720.6 531.5L721 528.9L721.4 531.2L721.9 529.7L722.5 532.3L722.8 527.1L723.3 532.5L723.7 528.3L724.1 532.6L724.6 528.3L725 531.1L725.3 529.1L725.9 531.2L726.5 528.6L726.8 531.8L727.2 528.3L727.8 532.6L728.4 527.7L729 532.7L729.4 527.5L729.7 532.3L730.1 527.5L730.6 531.3L730.9 527.1L731.2 531.8L731.6 528.5L732.2 532.9L732.5 527.7L732.9 532.1L733.3 529L733.7 531.1L734.3 528L734.6 532.8L735.2 528.1L735.6 531.1L735.9 528.4L736.2 531.3L736.5 527.8L737.1 532.5L737.5 528.2L738 531.6L738.4 529.4L738.8 532.9L739.1 527.9L739.6 532.7L739.9 528.5L740.3 531.7L740.7 526.9L741.3 532.8L741.6 529.5L742.1 532.8L742.5 527.6L742.8 531.6L743.4 527L744 532.9L744.3 529L744.7 532L745.2 526.7L745.7 532.2L746.2 527.6L746.7 530L747.3 528.1L747.9 532L748.2 528.4L748.6 531.9L749.1 528.3L749.4 531.5L749.9 527.2L750.3 531.7L750.5 527.4L751 532.4L751.5 525.1L751.9 529.6L752.3 523.7L752.8 529.2L753.1 523.9L753.6 528.6L753.9 519.5L754.5 525.4L754.8 517.1L755.3 527.7L755.6 516.3L756.1 527.2L756.5 520.3L756.9 528.6L757.2 524.4L757.8 527.7L758.4 522L758.7 526.1L759.1 516.4L759.7 525.6L760.1 523L760.8 528.6L761.1 527.3L761.5 532L762.1 525L762.7 532.7L763.1 527.2L763.7 532.4L764 525.4L764.4 531.3L764.8 527.3L765 531L765.4 524.4L765.7 533.4L766.1 526.4L766.6 533.2L767.1 528.2L767.5 531.7L768.1 527.1L768.5 533.8L768.8 526L769.4 533.7L769.6 528.4L769.9 534.4L770.3 524.5L770.9 532.2L771.3 522.5L771.8 530.9L772.3 521.8L772.6 525.8L773.2 519.4L773.7 535.5L774 526.9L774.4 536.1L775 527.9L775.4 535L775.8 526.6L776.2 537.5L776.7 527.7L777.3 537.8L777.6 530.7L778 539.3L778.3 532.1L778.9 537.6L779.2 534.4" stroke="#f00" stroke-width="1.3"/>
<path d="M598 529.3L598.8 529.4L599.7 529.3L600.1 529.3L600.7 529.2L601.2 529.4L601.8 529.2L602.5 529.5L603.2 529.1L603.7 529.6L604.2 529.1L604.7 529.6L605.2 529.2L605.6 529.5L606.4 529.1L606.9 529.6L607.8 529.1L608.2 529.8L608.9 528.9L609.3 529.7L610.1 528.9L610.9 529.5L611.4 529.2L611.8 530L612.5 528.7L613 530.1L613.6 529.1L614.3 530.2L614.7 528.8L615.4 529.7L615.9 529.1L616.4 529.8L617 528.7L617.5 529.4L618 528.7L618.5 529.8L618.9 528.6L619.5 529.5L619.9 528.9L620.6 530L621 529.1L621.7 529.9L622.2 528.9L623 529.8L623.6 528.9L624.2 530.2L625 528.9L625.5 530.1L625.9 529.3L626.7 529.9L627.5 528.8L628.3 529.9L628.7 529.3L629.3 530.1L630.1 529.1L630.8 529.9L631.4 529L631.9 530L632.7 529.1L633.3 530.2L634.1 528.9L634.5 530.3L635.3 528.7L635.7 530.3L636.3 528.4L636.9 530.2L637.4 528.4L637.8 529.9L638.6 528.4L639.1 529.7L639.6 528.6L640.1 529.6L640.6 528.4L641.4 529.5L642 528.4L642.4 530.2L642.8 528.5L643.5 530.1L644 528.7L644.6 529.9L645.3 528.6L645.9 529.4L646.5 528.6L647 530.2L647.7 528.6L648.2 530L648.6 529L649.1 529.6L649.7 528.6L650.1 530.1L650.5 528.4L651.2 530L651.6 528.6L652.2 530.3L652.6 528.3L653.4 530.2L654.2 528.9L655 530L655.8 528.3L656.3 530.2L657.1 529.1L657.6 530.2L658 528.3L658.5 530.3L659 528.6L659.8 529.7L660.2 528.6L660.8 529.5L661.2 528.9L662 530.2L662.8 528.9L663.5 529.6L664.2 528.5L664.7 530.3L665.3 528.5L666.1 529.6L666.9 528.5L667.5 530.3L668 528.2L668.6 529.9L669.3 528.6L669.8 530.2L670.2 528.3L670.6 530.2L671.5 528.5L672.2 529.9L672.5 529.2L672.9 530.1L673.5 528.5L674.3 529.6L674.8 528.4L675.1 529.3L675.7 529L676.2 529.8L676.8 528.5L677.3 530.2L677.9 529L678.7 529.8L679.1 529L679.8 530.4L680.5 528.6L681 529.4L681.7 528.5L682.2 530.2L682.8 528.2L683.5 529.8L684.3 529.1L684.9 530L685.4 529.1L686.1 529.4L686.7 528.2L687.2 529.8L687.8 528.5L688.5 530.4L688.9 528.8L689.4 529.5L690.2 528.3L690.9 529.4L691.7 528.4L692.3 530.4L692.9 528.9L693.3 529.9L693.6 528.8L694.4 530.4L695.1 528.4L695.6 530.3L696.2 528.3L696.8 530L697.5 528.2L697.9 530.7L698.3 528.9L698.8 530.6L699.6 528.4L700.1 530.7L700.6 528.9L701.4 530.5L702.1 528.5L702.9 530.4L703.7 528.4L704.5 530.4L705.2 528.6L705.7 530.1L706.4 529.3L707.1 530L707.5 529.2L708.3 530.3L708.8 529.4L709.1 530.7L709.8 528.4L710.5 529.9L711.2 528.8L711.9 530.9L712.7 529.4L713.5 531L714.3 529.3L714.7 530.1L715.1 528.3L715.9 530.8L716.6 528.6L717.1 530.1L717.5 528.5L718 530.5L718.6 529.6L719 530.5L719.7 528.9L720.3 531.3L720.9 528.4L721.5 530L722.1 528.9L722.8 530.6L723.5 528.7L724 531.2L724.4 528.4L724.8 529.9L725.3 528.5L726.1 529.9L726.7 528.8L727.4 530.5L728 529L728.8 530.6L729.6 529.2L730.1 531.2L730.7 529.5L731.3 530.3L732.1 528.6L732.8 531.2L733.3 529L733.9 531.5L734.3 528.5L734.7 530.6L735.1 528.4L735.7 530.9L736.5 529.3L737.1 531.1L737.8 528.5L738.5 530.8L739 529.4L739.8 531.2L740.5 529.3L741.1 531.4L741.7 529.4L742.3 531.5L742.8 529.2L743.3 531.2L744 529.2L744.5 530.6L745 528.6L745.4 530.7L745.9 527.9L746.6 530L747.4 529L748 531.2L748.7 527.8L749.3 529.9L749.9 528.6L750.4 530.2L750.8 527.9L751.5 530.1L752.1 526.1L752.7 527.9L753.3 524.9L754.1 527.2L754.6 519L755.3 524.1L755.8 520L756.6 526.9L757.3 524.1L758 527.6L758.6 522.8L759.2 522.8L759.8 520.6L760.5 528.3L761 526.5L761.5 529.9L762.1 526.6L762.9 529.6L763.6 526.7L764.1 530.4L764.9 528.5L765.6 529.7L766.3 526.4L766.9 529.6L767.5 527.1L768.3 530.9L768.9 526.5L769.5 530.9L770.3 528L771 531L771.8 526.4L772.6 528.2L773 524.3L773.5 528.5L774.1 528L774.8 532.6L775.3 530.2L776 535.3L776.6 531.5L777.3 535.4L777.8 533L778.5 537.6" stroke="#f00" stroke-width="1.4"/>
<path d="M753.6 523L754.6 514.5L755 511.8L755.5 514.5L756.5 523" stroke="#f00" stroke-width="1.3"/>
<path d="M758.1 523L759 515L759.4 513L759.8 515.5L760.7 524" stroke="#f00" stroke-width="1.3"/>
<path d="M771.5 525L772.3 517L772.6 515.4L773 517.5L773.8 525" stroke="#f00" stroke-width="1.3"/>
<path d="M514.2 525.4L531.5 521.2L549.7 519.4L568 516.6L586.2 513.9L590.5 513.5L593 512L596 512.9L599 512.3L605 516.6L615.4 519L623.9 520.8L633.7 522L637.5 522.6" stroke="#00f" stroke-width="2.0" stroke-dasharray="11.5 7.7"/>
<path d="M642.8 523.9L651.9 524.5" stroke="#00f" stroke-width="2.0"/>
<path d="M661.6 524.2L672 524.4" stroke="#00f" stroke-width="2.0"/>
<path d="M680.5 523.2L691.1 522.9" stroke="#00f" stroke-width="2.0"/>
<path d="M699 522.4L709.3 522" stroke="#00f" stroke-width="2.0"/>
<path d="M717.2 521.1L739.7 520.9" stroke="#00f" stroke-width="2.0"/>
<path d="M747.6 521.3L758 521.7" stroke="#00f" stroke-width="2.0"/>
<path d="M762.9 521.9L779.2 523.2" stroke="#00f" stroke-width="2.0"/>
<path d="M528.8 518.8L549.7 520.3L568 521.6L586.2 523L604.5 524.3L622.7 525.2L645 526.1L689.7 526L726.2 524.7L751.8 522.3L760.3 522.3L760.3 532L779.4 532" stroke="#00f" stroke-width="2.0"/>
</g>
<g class="ax">
<rect x="499.3" y="442" width="279.9" height="292" fill="none" stroke-width="2.1"/>
</g><g class="ax">
<text class="nr" transform="translate(508.072 760.45) scale(0.664 1.02)" font-size="21.3">1</text>
<text class="nr" transform="translate(588.8 760.45) scale(1.017 1.005)" font-size="21.3">10</text>
<text class="nr" transform="translate(669.348 760.45) scale(1.049 1.005)" font-size="21.3">100</text>
<text class="nr" transform="translate(749.809 760.45) scale(1.073 1.005)" font-size="21.3">1000</text>
<text class="sr" transform="translate(598.955 795.55) scale(1.464 1.12)" font-size="22" style="stroke-width:0.4px">r</text> <text class="sr" transform="translate(620.742 796.074) scale(1.031 1.173)" font-size="22">[</text><text class="sr" transform="translate(630.386 795.55) scale(1.226 1.08)" font-size="22" style="stroke-width:0.4px">kpc</text><text class="sr" transform="translate(671.273 796.074) scale(1.072 1.173)" font-size="22">]</text>
<text class="nr" transform="translate(456.784 732.68) scale(2.288 1.022)" font-size="21.3" style="stroke-width:0.3px">-</text><text class="nr" transform="translate(473.721 734.1) scale(1.089 1)" font-size="21.3">5</text>
<text class="nr" transform="translate(456.784 693.13) scale(2.288 1.022)" font-size="21.3" style="stroke-width:0.3px">-</text><text class="nr" transform="translate(474.149 694.55) scale(1.025 1)" font-size="21.3">4</text>
<text class="nr" transform="translate(456.784 653.58) scale(2.288 1.022)" font-size="21.3" style="stroke-width:0.3px">-</text><text class="nr" transform="translate(473.766 655) scale(1.089 0.985)" font-size="21.3">3</text>
<text class="nr" transform="translate(456.784 614.03) scale(2.288 1.022)" font-size="21.3" style="stroke-width:0.3px">-</text><text class="nr" transform="translate(473.436 615.45) scale(1.134 0.985)" font-size="21.3">2</text>
<text class="nr" transform="translate(456.784 574.48) scale(2.288 1.022)" font-size="21.3" style="stroke-width:0.3px">-</text><text class="nr" transform="translate(476.837 575.9) scale(0.686 1)" font-size="21.3">1</text>
<text class="nr" transform="translate(473.751 536.35) scale(1.08 0.985)" font-size="21.3">0</text>
<text class="nr" transform="translate(476.837 496.8) scale(0.686 1)" font-size="21.3">1</text>
<text class="nr" transform="translate(473.436 457.25) scale(1.134 0.985)" font-size="21.3">2</text>
<text class="sr" transform="rotate(-90) translate(-652.81 420.815) scale(1.071 1.08)" font-size="22">(</text><text class="si" transform="rotate(-90) translate(-643.998 421.131) scale(1.167 0.986)" font-size="22" style="stroke-width:0.5px">ρ</text><text class="sr" transform="rotate(-90) translate(-630.279 420.892) scale(1.995 1.156)" font-size="22" style="stroke-width:0.3px">-</text><text class="si" transform="rotate(-90) translate(-614.003 421.131) scale(1.158 0.986)" font-size="22" style="stroke-width:0.5px">ρ</text><text class="sb" transform="rotate(-90) translate(-600.975 429) scale(0.973 0.966)" font-size="13.5" style="stroke-width:0.5px">Ein</text><text class="sr" transform="rotate(-90) translate(-579.896 420.886) scale(1.018 1.065)" font-size="22">)</text><text class="sr" transform="rotate(-90) translate(-570.25 425.932) scale(2.127 1.481)" font-size="22" style="stroke-width:0.1px">/</text><text class="si" transform="rotate(-90) translate(-556.093 421.131) scale(1.177 0.986)" font-size="22" style="stroke-width:0.5px">ρ</text><text class="sb" transform="rotate(-90) translate(-542.873 429) scale(0.968 0.966)" font-size="13.5" style="stroke-width:0.5px">Ein</text>
</g>
<g class="ax">
<text class="sr" transform="translate(118.446 279.3) scale(1.072 1)" font-size="22" style="fill:#f00;stroke:#f00">E</text><text class="sr" transform="translate(133.588 279.3) scale(1.271 1.04)" font-size="22" style="fill:#f00;stroke:#f00;stroke-width:0.55px">inasto</text>
<text class="sr" transform="translate(118.481 308.4) scale(0.858 1)" font-size="22" style="stroke-width:1.05px">DMO</text> <text class="sr" transform="translate(174.25 307.561) scale(2.205 1.034)" font-size="22" style="stroke-width:0.3px">-</text> <text class="sr" transform="translate(202.302 308.4) scale(1.139 1.04)" font-size="22" style="stroke-width:0.55px">z</text><text class="sr" transform="translate(214.816 310.119) scale(1.172 1.091)" font-size="22" style="stroke-width:0.6px">=</text><text class="nr" transform="translate(230.618 308.4) scale(1.12 0.985)" font-size="21.3">0</text>
<text class="sr" transform="translate(528.146 250) scale(1.072 1)" font-size="22" style="fill:#f00;stroke:#f00">E</text><text class="sr" transform="translate(543.288 250) scale(1.271 1.04)" font-size="22" style="fill:#f00;stroke:#f00;stroke-width:0.55px">inasto</text>
<text class="sr" transform="translate(527.739 279.4) scale(0.867 1)" font-size="22" style="fill:#00f;stroke:#00f">A</text><text class="sr" transform="translate(541.958 279.4) scale(1.154 1.04)" font-size="22" style="fill:#00f;stroke:#00f;stroke-width:0.55px">d.</text> <text class="sr" transform="translate(571.744 279.4) scale(1.087 1)" font-size="22" style="fill:#00f;stroke:#00f">C</text><text class="sr" transform="translate(586.764 279.4) scale(1.326 1.04)" font-size="22" style="fill:#00f;stroke:#00f;stroke-width:0.55px">ontr.</text>
<text class="sr" transform="translate(528.443 308.4) scale(0.849 1)" font-size="22" style="stroke-width:1.05px">AGN</text><text class="sr" transform="translate(570.693 307.561) scale(2.275 1.034)" font-size="22" style="stroke-width:0.3px">-</text><text class="sr" transform="translate(587.074 308.4) scale(1.054 1)" font-size="22" style="stroke-width:0.65px">OFF</text> <text class="sr" transform="translate(640.05 307.561) scale(2.205 1.034)" font-size="22" style="stroke-width:0.3px">-</text> <text class="sr" transform="translate(668.102 308.4) scale(1.139 1.04)" font-size="22" style="stroke-width:0.55px">z</text><text class="sr" transform="translate(680.616 310.119) scale(1.172 1.091)" font-size="22" style="stroke-width:0.6px">=</text><text class="nr" transform="translate(696.418 308.4) scale(1.12 0.985)" font-size="21.3">0</text>
<text class="sr" transform="translate(118.446 647) scale(1.072 1)" font-size="22" style="fill:#f00;stroke:#f00">E</text><text class="sr" transform="translate(133.588 647) scale(1.271 1.04)" font-size="22" style="fill:#f00;stroke:#f00;stroke-width:0.55px">inasto</text>
<text class="sr" transform="translate(118.039 675.9) scale(0.867 1)" font-size="22" style="fill:#00f;stroke:#00f">A</text><text class="sr" transform="translate(132.258 675.9) scale(1.154 1.04)" font-size="22" style="fill:#00f;stroke:#00f;stroke-width:0.55px">d.</text> <text class="sr" transform="translate(162.044 675.9) scale(1.087 1)" font-size="22" style="fill:#00f;stroke:#00f">C</text><text class="sr" transform="translate(177.071 675.9) scale(1.318 1.04)" font-size="22" style="fill:#00f;stroke:#00f;stroke-width:0.55px">ontr</text>
<text class="sr" transform="translate(118.943 705.4) scale(0.849 1)" font-size="22" style="stroke-width:1.05px">AGN</text><text class="sr" transform="translate(161.193 704.561) scale(2.275 1.034)" font-size="22" style="stroke-width:0.3px">-</text><text class="sr" transform="translate(177.927 705.4) scale(0.884 1)" font-size="22" style="stroke-width:1.05px">ON</text> <text class="sr" transform="translate(219.15 704.561) scale(2.205 1.034)" font-size="22" style="stroke-width:0.3px">-</text> <text class="sr" transform="translate(247.202 705.4) scale(1.139 1.04)" font-size="22" style="stroke-width:0.55px">z</text><text class="sr" transform="translate(259.716 707.119) scale(1.172 1.091)" font-size="22" style="stroke-width:0.6px">=</text><text class="nr" transform="translate(275.518 705.4) scale(1.12 0.985)" font-size="21.3">0</text>
<line x1="526.6" y1="640.6" x2="552.3" y2="640.6" stroke-width="1.6" stroke-dasharray="1.6 4.2"/>
<line x1="526.6" y1="669.2" x2="536.8" y2="669.2" stroke-width="1.5"/>
<line x1="547.5" y1="669.2" x2="552.3" y2="669.2" stroke-width="1.5"/>
<line x1="526.6" y1="698.6" x2="552.3" y2="698.6" stroke-width="1.5"/>
<text class="sr" transform="translate(555.982 647) scale(0.856 1)" font-size="22" style="stroke-width:1.05px">DMO</text>
<text class="sr" transform="translate(555.843 675.9) scale(0.849 1)" font-size="22" style="stroke-width:1.05px">AGN</text><text class="sr" transform="translate(598.093 675.061) scale(2.275 1.034)" font-size="22" style="stroke-width:0.3px">-</text><text class="sr" transform="translate(614.474 675.9) scale(1.054 1)" font-size="22" style="stroke-width:0.65px">OFF</text>
<text class="sr" transform="translate(555.843 705.4) scale(0.849 1)" font-size="22" style="stroke-width:1.05px">AGN</text><text class="sr" transform="translate(598.093 704.561) scale(2.275 1.034)" font-size="22" style="stroke-width:0.3px">-</text><text class="sr" transform="translate(614.827 705.4) scale(0.884 1)" font-size="22" style="stroke-width:1.05px">ON</text>
</g>
</g></svg></body></html>
